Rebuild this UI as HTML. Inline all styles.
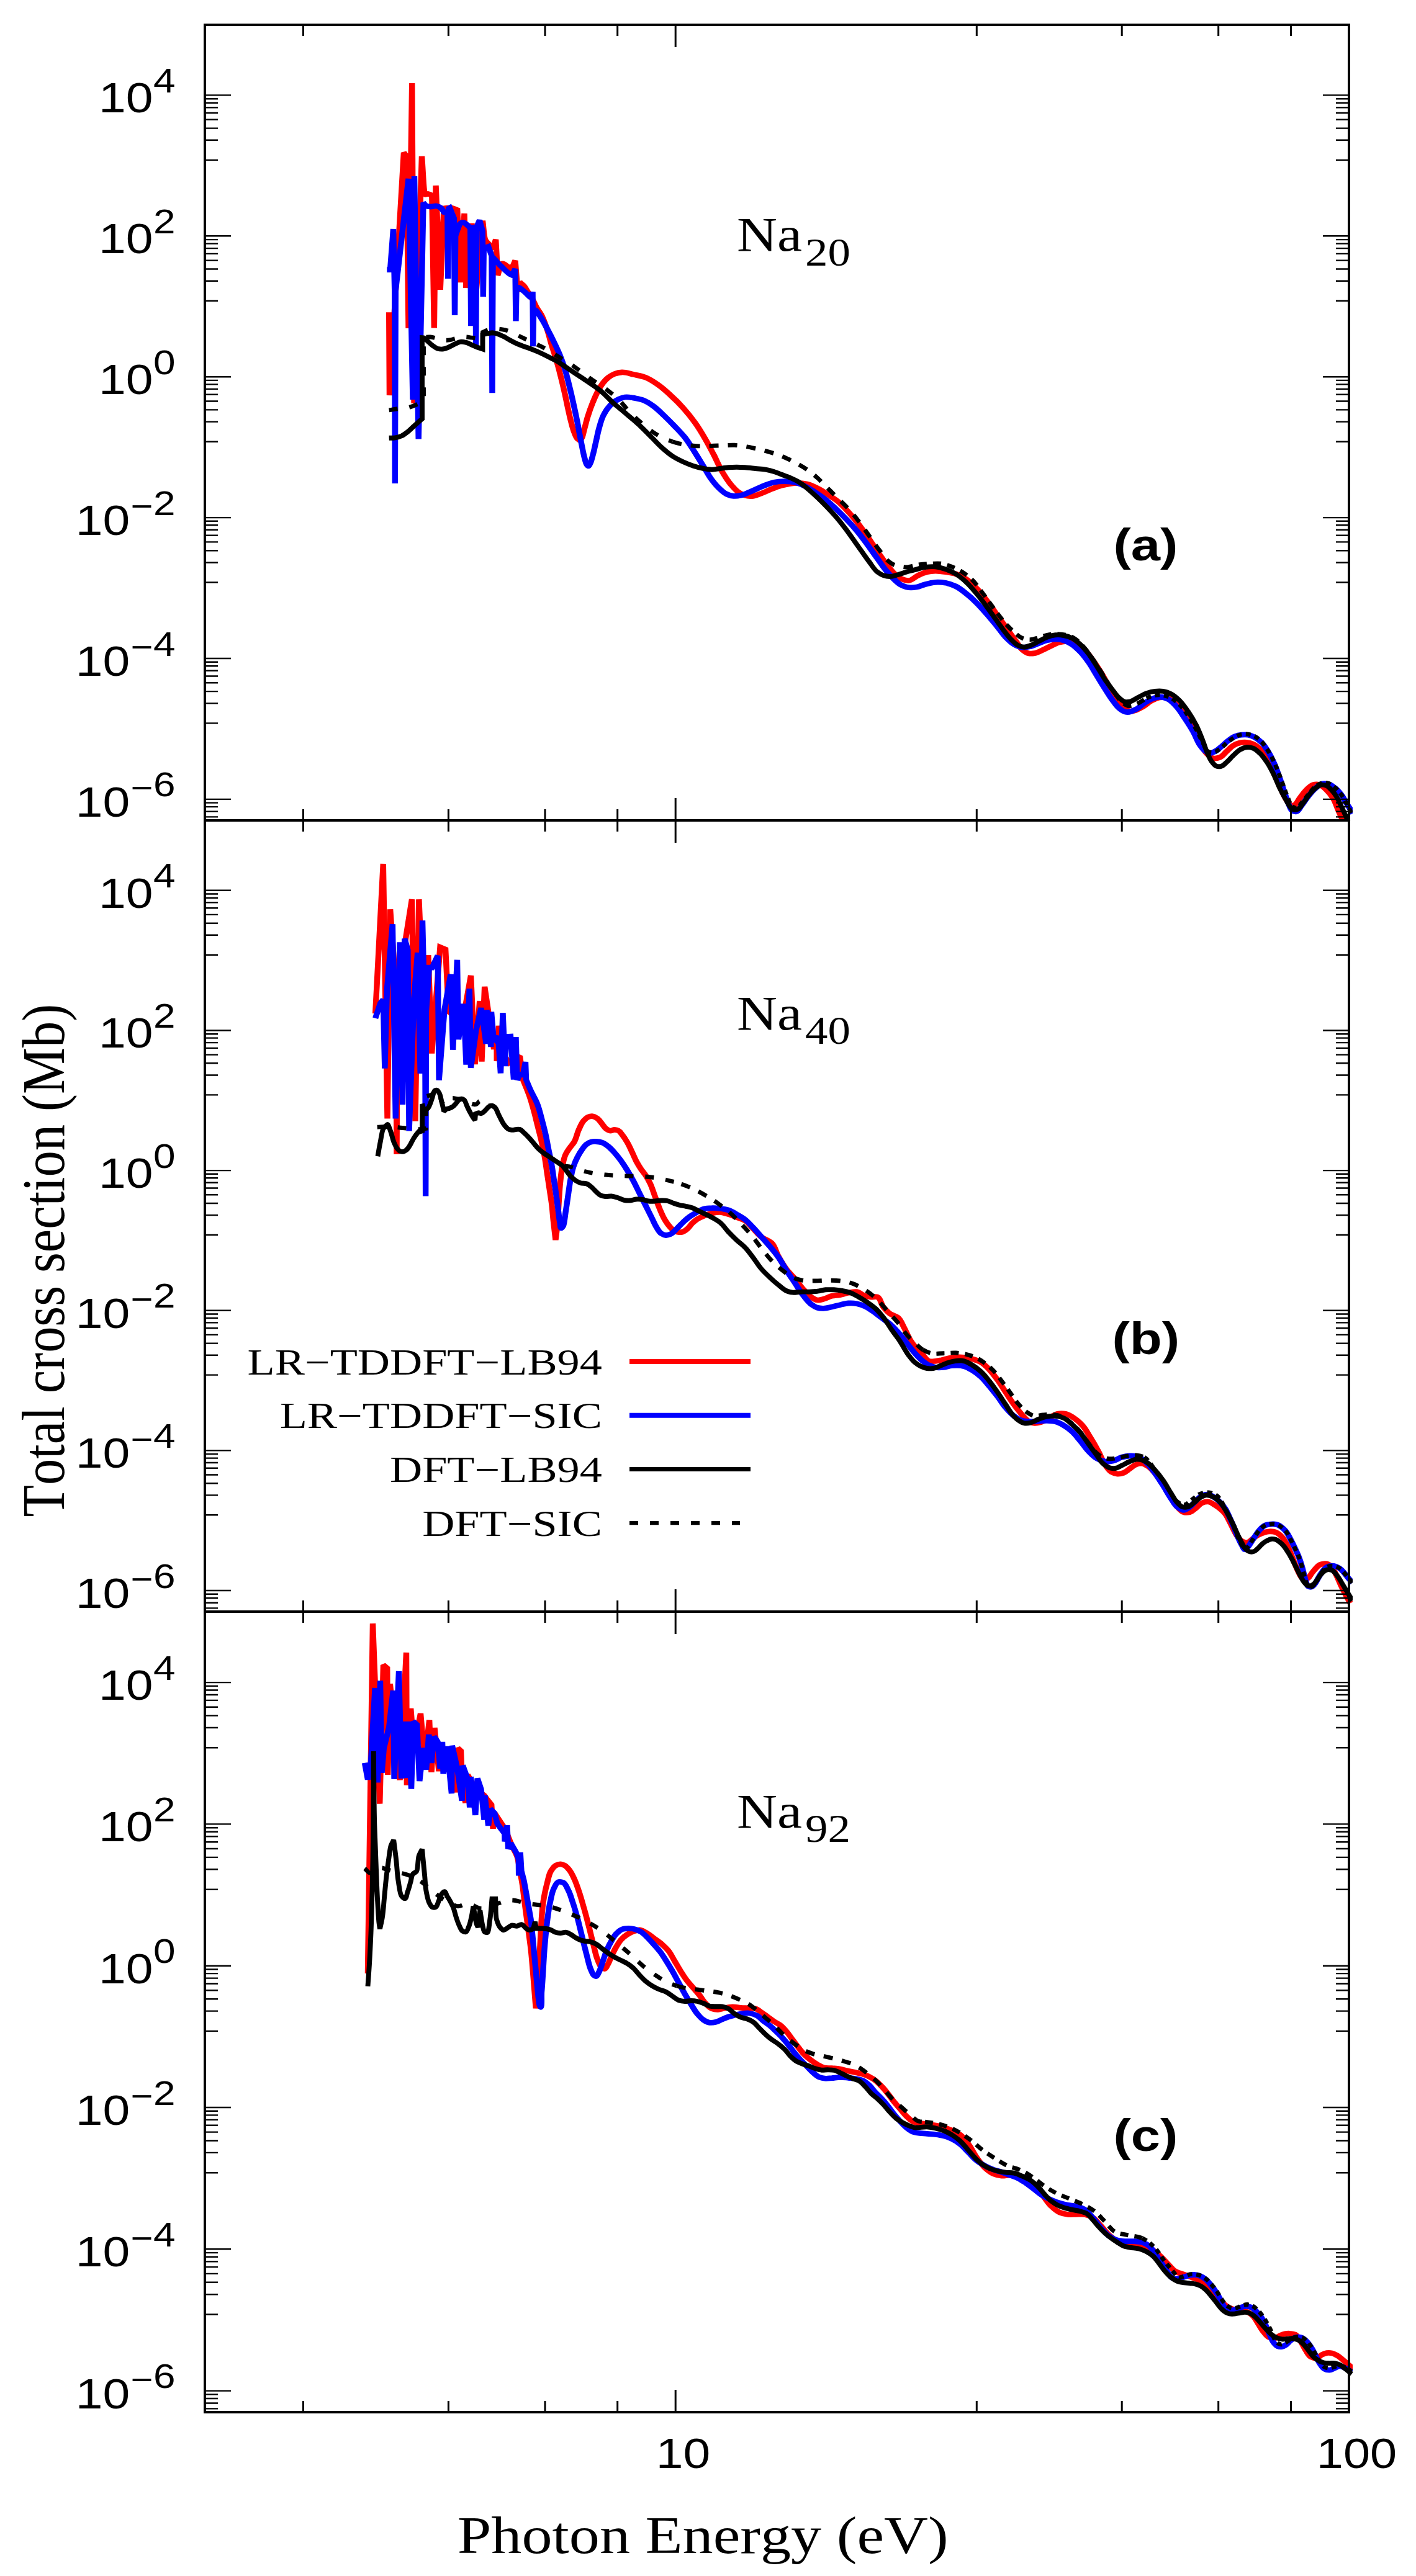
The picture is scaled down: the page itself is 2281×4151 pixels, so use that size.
<!DOCTYPE html>
<html lang="en"><head><meta charset="utf-8"><title>Total cross section vs photon energy</title>
<style>html,body{margin:0;padding:0;background:#fff}svg{display:block}text{font-kerning:none;font-variant-ligatures:none}</style></head><body>
<svg width="2281" height="4151" viewBox="0 0 2281 4151">
<rect width="2281" height="4151" fill="#fff"/>
<defs>
<clipPath id="cp0"><rect x="330" y="40" width="1849" height="1282"/></clipPath>
<clipPath id="cp1"><rect x="330" y="1322" width="1849" height="1275"/></clipPath>
<clipPath id="cp2"><rect x="330" y="2597" width="1849" height="1290"/></clipPath>
</defs>
<g clip-path="url(#cp0)" fill="none" stroke-linejoin="miter" stroke-miterlimit="1.8" stroke-linecap="butt">
<path stroke="#f00" stroke-width="8.8" transform="scale(1.07 1)" d="M585.7 503.3L586.4 637L607.9 246L612.1 252L615 529L620.3 134L623.4 650L635 252C636.8 272.4 637.7 313.5 640.2 313.3C641.8 313.2 643.3 312.3 644.9 312.5C646.8 312.7 648.5 314.2 650.3 315L653.6 528.5L656.1 299L662.8 466.7L668.2 336C672.1 335.7 676.1 334.3 679.9 335C683 335.5 685.6 337.3 688.5 338.5L693.2 455L699.1 344L701.7 464L710.3 360L715.9 480L726.6 356C728.2 366.7 728.2 383.3 731.3 388C733.3 391 736.3 393.8 738.3 396C739.6 397.4 740.9 398.7 742.2 400L746.4 386L749.3 443.3C751.8 437.2 752.1 424.5 757 425C760.1 425.3 762.2 428.3 764.8 430C766.5 431.2 768.3 432.3 770.1 433.5L775.7 420L779.4 470L782.7 455C784.5 456.7 786.5 458.2 788.2 460C790.8 462.9 792.4 466.6 794.4 470C797.1 474.4 799.8 478.8 802.2 483.3C804.5 487.7 806 492.4 808.4 496.7C810.3 500.1 812.8 503.2 814.6 506.7C817.6 512.2 820.1 519.9 822.4 526.7C825.6 535.9 827.5 545.6 830.2 555C832.7 563.9 835.6 572.7 838 581.7C840.2 590 842.3 598.3 844.2 606.7C846.5 616.1 848.5 625.5 850.5 635C852.1 642.8 853.5 650.6 855.1 658.3C856.6 665.6 858 672.8 859.8 680C861.2 685.6 862.4 691.3 864.5 696.7C865.8 700.1 867.3 705 869.2 706.7C870.3 707.7 871.5 709.4 873.1 709.2C874.8 709 875.3 706.5 876.2 705C877.6 702.6 878.3 697.2 879.3 693.3C880.9 687.1 882.7 678.8 884.7 671.7C887 663.8 889.6 656 892.5 648.3C894.9 642.1 897.3 635.9 900.3 630C902.7 625.4 905 620.7 908.1 616.7C910.4 613.7 912.9 610.7 915.9 608.3C918.7 606 921.8 603.9 925.2 602.5C928.7 601.1 932.4 600.2 936.1 600C941.9 599.6 947.6 602 953.3 603.3C959.6 604.8 966 605.8 972 608.3C978.7 611.2 984.8 615.6 990.7 620C997.4 625 1003.4 630.8 1009.3 636.7C1015.9 643 1022.2 649.7 1028 656.7C1034.7 664.6 1041 673 1046.7 681.7C1052.4 690.2 1057.4 699.3 1062.3 708.3C1066.7 716.5 1070.7 724.9 1074.8 733.3C1079 742.2 1082.5 751.4 1087.2 760C1091 766.9 1094.8 773.8 1099.7 780C1103.5 784.8 1107.5 790.1 1112.1 793.3C1115 795.4 1118.1 797.3 1121.5 798.3C1125.5 799.6 1129.8 799.8 1134 799.3C1138.3 798.8 1142.3 796.6 1146.4 795C1150.7 793.3 1154.7 791.2 1158.9 789.3C1163 787.5 1167.1 785.5 1171.3 784C1175.4 782.6 1179.6 781.6 1183.8 780.7C1188.9 779.6 1194.1 778.4 1199.4 778.3C1204.6 778.2 1209.9 778.7 1215 780C1220.4 781.4 1225.5 784 1230.5 786.7C1236 789.5 1241 793.2 1246.1 796.7C1251.4 800.4 1256.8 804 1261.7 808.3C1267.4 813.4 1272.3 819.2 1277.3 825C1282.8 831.4 1287.9 838.2 1292.8 845C1298.3 852.6 1303.3 860.5 1308.4 868.3C1313.7 876.6 1318.6 885.1 1324 893.3C1328 899.5 1332 905.8 1336.4 911.7C1340.4 916.8 1344.3 922.7 1348.9 926.7C1351.8 929.2 1354.8 931.8 1358.3 933.3C1361.2 934.6 1364.4 935.7 1367.6 935.7C1372.7 935.6 1377.8 929.2 1383.2 926.7C1387.2 924.8 1391.3 922.8 1395.6 921.7C1399.7 920.6 1403.9 920.1 1408.1 920C1413.3 919.9 1418.5 920.8 1423.7 921.7C1428.9 922.5 1434.3 923.2 1439.3 925C1444.8 927 1450 929.9 1454.8 933.3C1460.7 937.5 1465.6 943 1470.4 948.3C1476.1 954.6 1481 961.5 1486 968.3C1491.5 975.9 1496.4 983.9 1501.6 991.7C1506.7 999.4 1511.9 1007.2 1517.1 1015C1521.3 1021.1 1525.4 1027.3 1529.6 1033.3C1532.7 1037.8 1534.9 1043.1 1538.9 1046.7C1541.7 1049.1 1544.7 1051.7 1548.3 1052.7C1551.3 1053.5 1554.6 1053.2 1557.6 1052.7C1562.1 1051.9 1566 1049.3 1570.1 1047.3C1574.3 1045.3 1578.3 1042.8 1582.6 1040.7C1586.6 1038.6 1590.6 1036.2 1595 1035C1599.1 1033.9 1603.3 1033.1 1607.5 1033.3C1611.8 1033.6 1616.1 1034.8 1619.9 1036.7C1624.7 1039 1628.6 1042.9 1632.4 1046.7C1637.3 1051.6 1640.9 1057.6 1644.9 1063.3C1649.3 1069.8 1653.4 1076.5 1657.3 1083.3C1661.7 1091 1665.5 1099 1669.8 1106.7C1673.8 1114 1677.6 1121.8 1682.2 1128.3C1685.1 1132.4 1687.8 1136.8 1691.6 1140C1694.4 1142.4 1697.4 1145 1700.9 1146C1706.7 1147.5 1714.8 1142.1 1721 1138.6C1725.5 1136 1729 1131.7 1733.5 1129.2C1737.5 1126.9 1741.6 1124.4 1746.1 1123.8C1750.2 1123.2 1754.7 1123.6 1758.6 1125.1C1763.8 1127.1 1767.4 1131.9 1771.2 1135.9C1776.1 1141.1 1779.8 1147.3 1783.7 1153.3C1788.2 1160.3 1792.4 1167.5 1796.2 1174.8C1799.9 1181.8 1802.6 1189.3 1806.3 1196.3C1809.4 1202.2 1811.7 1208.8 1816.3 1213.7C1819.2 1216.9 1822.2 1220.8 1826.3 1221.8C1829.6 1222.5 1833.3 1221.7 1836.4 1220.4C1840.6 1218.7 1843.1 1214.2 1846.4 1211C1849.8 1207.9 1852.6 1204.1 1856.4 1201.6C1859.5 1199.6 1862.9 1198 1866.5 1197.1C1869.7 1196.3 1873.2 1196 1876.5 1196.3C1880 1196.6 1883.4 1197.5 1886.5 1199C1890.4 1200.8 1893.6 1203.9 1896.6 1207C1900.7 1211.3 1903.6 1216.6 1906.6 1221.8C1910.6 1228.6 1913.4 1236 1916.6 1243.2C1920.2 1251.2 1923.2 1259.4 1926.7 1267.4C1929.9 1274.6 1933.1 1283.5 1936.7 1288.9C1939 1292.2 1941.5 1298.1 1944.2 1298.3C1946 1298.4 1947.7 1297.7 1949.3 1296.9C1951.7 1295.7 1954.2 1289.7 1956.8 1286.2C1960 1281.6 1962.9 1276.7 1966.8 1272.8C1969.8 1269.7 1972.7 1266 1976.8 1264.7C1980 1263.7 1983.7 1263.7 1986.9 1264.7C1991 1266 1993.9 1269.7 1996.9 1272.8C2000.9 1276.7 2004.1 1281.3 2006.9 1286.2C2010.3 1292 2011.9 1298.7 2014.5 1305C2017.8 1313 2021.2 1321.1 2024.5 1329.1"/>
<path stroke="#00f" stroke-width="8.8" transform="scale(1.07 1)" d="M582.5 434.7L587.4 434.7L592.1 369L594.2 470L594.7 779L595.6 468L615 288L621.5 644L623.8 284L630.1 707.5L637.4 326.7C638.8 328.4 639.9 330.6 641.8 331.7C643.6 332.7 645.8 332.8 647.9 333C651.1 333.3 654.2 331.3 657.3 332C659.6 332.5 661.8 333.5 663.6 335C665.7 336.7 666.7 339.5 668.2 341.7L673.6 343L674.5 449L675.4 336L677.1 335L683.6 352L684.6 508L685.7 380C687.1 375.6 688.5 370.3 690 366.7C691 364.4 691.4 361.4 693.2 360C694.3 359.1 695.6 358.4 697 358.3C699.2 358.2 700.8 360.3 702.5 361.7C704.3 363.1 705.6 365 707.2 366.7L708.1 368L709.1 525.3L710 367L715.6 367L716.5 556.7L717.5 366L722 355L726.4 372L727.4 478.3L728.3 400L735.2 397.5L740.2 412L741.1 633.3L742.1 415C745.5 418.9 748.8 422.9 752.3 426.7C754.9 429.5 757.4 432.3 760.1 435C762.1 437 764 439.2 766.4 440.8C767.8 441.8 769.5 442.5 771 443.3L775.7 433.3L776.6 517.5L777.6 462L782.7 464.2C785.6 466.7 788.6 469 791.3 471.7C793.5 473.8 795.4 476.1 797.5 478.3L801.2 479.2L801.9 470L802.5 558.3L803.4 498.3C804.6 499 805.8 499.6 806.9 500.3C808.6 501.6 813.3 510 816.2 515C819.6 520.9 822.5 527.2 825.5 533.3C828.8 539.9 831.9 546.6 834.9 553.3C837.6 559.4 840.3 565.5 842.7 571.7C845.6 579.3 848.2 587.1 850.5 595C852.9 603.2 854.7 611.6 856.7 620C858.9 629.4 861 638.9 862.9 648.3C865.1 658.9 867.2 669.4 869.2 680C871.3 691.6 873.2 703.4 875.4 715C876.9 722.8 878.6 732.9 880.1 738.3C881 741.7 882.1 746.9 883.2 748.3C883.9 749.2 884.4 750.6 885.5 750.8C887.2 751.2 887.7 748.1 888.6 746.7C890.1 744.3 891.3 737.8 892.5 733.3C894.4 726.2 895.6 718.9 897.2 711.7C898.8 704.4 900 697.1 901.9 690C903.7 683.2 905.2 676.3 908.1 670C910.3 665.3 912.7 660.7 915.9 656.7C918.2 653.7 920.7 650.7 923.7 648.3C926.1 646.4 928.7 644.7 931.5 643.3C934.4 641.9 937.5 640.6 940.8 640C946 639.1 951.3 640.7 956.4 641.7C960.6 642.5 964.9 643.4 968.8 645C974.6 647.3 979.6 651.2 984.4 655C990.1 659.4 994.9 664.9 1000 670C1005.3 675.4 1010.5 681 1015.6 686.7C1020.9 692.6 1026.4 698.6 1031.2 705C1037 712.9 1041.7 721.6 1046.7 730C1051 737.2 1055 744.4 1059.2 751.7C1063.3 758.9 1066.8 766.5 1071.7 773.3C1075.4 778.6 1079.4 783.9 1084.1 788.3C1087 791.1 1089.9 794.1 1093.5 796C1096.8 797.8 1100.6 799 1104.4 799.3C1108 799.7 1111.7 799.1 1115.3 798.3C1119.6 797.3 1123.6 795.1 1127.7 793.3C1131.9 791.5 1136 789.3 1140.2 787.3C1144.3 785.4 1148.4 783.4 1152.6 781.7C1156.7 780 1160.8 778.3 1165.1 777.3C1170.2 776.1 1175.5 775.7 1180.7 775.7C1185.9 775.7 1191.2 776.1 1196.3 777.3C1201.7 778.6 1206.9 780.8 1211.8 783.3C1217.4 786.1 1222.3 789.8 1227.4 793.3C1232.7 797 1238 800.8 1243 805C1248.5 809.7 1253.5 814.9 1258.6 820C1263.9 825.4 1269.1 831 1274.1 836.7C1279.5 842.6 1284.8 848.7 1289.7 855C1295.2 862 1300.2 869.4 1305.3 876.7C1310.6 884.4 1315.6 892.2 1320.9 900C1325 906.1 1328.9 912.4 1333.3 918.3C1337.3 923.5 1341.2 928.7 1345.8 933.3C1348.7 936.3 1351.6 939.4 1355.1 941.7C1358 943.5 1361.2 945.1 1364.5 946C1369.5 947.3 1375 946.9 1380.1 946C1384.4 945.2 1388.3 942.9 1392.5 941.7C1397.6 940.2 1402.8 938.7 1408.1 938.3C1413.3 938 1418.6 938.3 1423.7 939.3C1429.1 940.4 1434.4 942.4 1439.3 945C1445 948 1449.9 952.5 1454.8 956.7C1460.3 961.3 1465.5 966.4 1470.4 971.7C1475.9 977.5 1480.9 983.8 1486 990C1491.3 996.6 1496.4 1003.3 1501.6 1010C1505.8 1015.5 1509.3 1021.5 1514 1026.7C1517.9 1030.9 1521.6 1035.4 1526.5 1038.3C1530.3 1040.7 1534.5 1042.8 1538.9 1043.3C1543.1 1043.8 1547.3 1042.7 1551.4 1041.7C1555.7 1040.5 1559.7 1038.3 1563.9 1036.7C1568 1035 1572 1032.8 1576.3 1031.7C1580.4 1030.6 1584.6 1030 1588.8 1030C1593 1030 1597.2 1030.4 1601.2 1031.7C1605.7 1033.1 1609.8 1035.6 1613.7 1038.3C1618.4 1041.6 1622.3 1045.8 1626.2 1050C1630.8 1055.1 1634.8 1060.9 1638.6 1066.7C1643.2 1073.6 1646.9 1081.1 1651.1 1088.3C1655.2 1095.6 1659.3 1102.9 1663.6 1110C1667.6 1116.7 1671.4 1123.7 1676 1130C1678.9 1134 1681.5 1138.5 1685.4 1141.7C1688.2 1144 1691.2 1146.5 1694.7 1147.3C1700.2 1148.6 1706 1145.3 1711 1142.6C1714.7 1140.5 1717.5 1137.1 1721 1134.5C1725 1131.6 1729 1128.5 1733.5 1126.5C1737.5 1124.8 1741.7 1123 1746.1 1123C1750.4 1123 1754.8 1124.5 1758.6 1126.5C1763.8 1129.2 1767.4 1134.2 1771.2 1138.6C1776.1 1144.3 1779.7 1151 1783.7 1157.4C1788.1 1164.4 1792.4 1171.5 1796.2 1178.8C1799.9 1185.8 1802.7 1195 1806.3 1200.3C1808.5 1203.6 1810.6 1207.2 1813.8 1209.7C1816.1 1211.4 1818.5 1213.5 1821.3 1213.7C1824 1213.9 1826.5 1212.2 1828.9 1211C1832.7 1209.1 1835.6 1205.8 1838.9 1203C1842.4 1200 1845.3 1196.4 1848.9 1193.6C1852.1 1191.1 1855.3 1188.5 1859 1186.9C1862.1 1185.5 1865.6 1184.6 1869 1184.2C1872.3 1183.8 1875.7 1183.6 1879 1184.2C1882.6 1184.9 1885.9 1186.4 1889.1 1188.2C1892.8 1190.3 1896.1 1193.2 1899.1 1196.3C1903.2 1200.5 1906.1 1205.9 1909.1 1211C1913.1 1217.9 1916.2 1225.2 1919.2 1232.5C1922 1239.5 1924.3 1246.8 1926.7 1254C1929.3 1262 1931.6 1270.1 1934.2 1278.1C1936.2 1284.4 1938.1 1291.8 1940.5 1296.9C1942 1300.1 1942.5 1304.6 1945.5 1306.3C1947.3 1307.4 1949.6 1308 1951.8 1307.6C1955.1 1307.1 1956.9 1301.5 1959.3 1298.3C1962.9 1293.5 1965.7 1288.2 1969.3 1283.5C1972.5 1279.3 1975.6 1275 1979.4 1271.4C1982.4 1268.4 1985.3 1264.6 1989.4 1263.4C1992.6 1262.4 1996.2 1262.5 1999.4 1263.4C2003.2 1264.3 2006.4 1267.1 2009.5 1269.5C2013.4 1272.7 2016.6 1276.7 2019.5 1280.8C2022.5 1285 2024.4 1289.8 2027 1294.2C2030.2 1299.7 2033.7 1305 2037 1310.3"/>
<path stroke="#000" stroke-width="7.9" d="M626.7 705.8C630 705.7 633.4 705.9 636.7 705.3C640.1 704.8 643.5 703.9 646.7 702.5C650.3 700.9 653.5 698.3 656.7 695.8C660.2 693.1 663.3 689.7 666.7 686.7C669.4 684.2 672.4 681.4 675 679.2C676.6 677.8 678.3 676.4 680 675L680 544.2C681.1 544.3 682.3 544.3 683.3 544.7C685 545.3 686.7 547.7 688.3 549.2C691 551.6 693.6 554.5 696.7 556.7C699.3 558.6 701.9 560.7 705 561.7C707.7 562.5 710.6 562.8 713.3 562.5C716.2 562.2 719 561 721.7 560C725.7 558.5 729.4 555.9 733.3 554.2C736.1 553 738.7 551.2 741.7 550.8C744.4 550.5 747.3 551 750 551.7C753.5 552.5 756.7 554.4 760 555.8C763.3 557.2 766.6 558.8 770 560C772.5 560.9 775 561.7 777.5 562.5L777.5 539.2C780 538.6 782.5 538 785 537.5C787.8 537 790.5 536.3 793.3 536.3C797.8 536.4 804.7 539.2 810 541.7C814.1 543.5 817.7 546.2 821.7 548.3C825.5 550.4 829.4 552.4 833.3 554.2C837.7 556.1 842.2 557.5 846.7 559.2C851.1 560.8 855.6 562.4 860 564.2C864.5 566 868.9 567.9 873.3 570C877.8 572.1 882.2 574.4 886.7 576.7C890 578.3 893.4 579.8 896.7 581.7C900.1 583.7 903.3 586.1 906.7 588.3C910 590.6 913.3 592.8 916.7 595C920 597.2 923.3 599.4 926.7 601.7C930 603.9 933.3 606.1 936.7 608.3C940 610.6 943.3 612.8 946.7 615C950 617.2 953.4 619.4 956.7 621.7C960.1 624.1 963.5 626.5 966.7 629.2C970.2 632 973.4 635.2 976.7 638.3C980.1 641.6 983.2 645.2 986.7 648.3C989.9 651.3 993.3 653.9 996.7 656.7C1000 659.4 1003.4 662.2 1006.7 665C1012 669.5 1024.8 680.2 1033.3 688.3C1039 693.7 1044.4 699.4 1050 705C1055.6 710.6 1060.8 716.4 1066.7 721.7C1072 726.4 1077.4 731.1 1083.3 735C1088.6 738.5 1094.3 741.3 1100 744C1105.4 746.5 1111 748.8 1116.7 750.7C1122.1 752.5 1127.7 754 1133.3 755C1137.7 755.8 1142.2 756.7 1146.7 756.7C1151.1 756.7 1155.6 755.6 1160 755C1164.4 754.4 1168.9 753.7 1173.3 753.3C1177.8 752.9 1182.2 752.7 1186.7 752.7C1191.1 752.7 1195.6 753 1200 753.3C1205.6 753.7 1211.1 754.4 1216.7 755C1222.2 755.6 1227.8 755.7 1233.3 756.7C1237.8 757.5 1242.3 758.6 1246.7 760C1251.2 761.4 1255.6 763.3 1260 765C1264.4 766.7 1269 768.1 1273.3 770C1277.9 772 1282.4 774.1 1286.7 776.7C1291.4 779.6 1295.7 783.2 1300 786.7C1305.8 791.4 1311.2 796.5 1316.7 801.7C1322.4 807.1 1327.9 812.7 1333.3 818.3C1339 824.3 1344.7 830.3 1350 836.7C1355.9 843.6 1361.2 851 1366.7 858.3C1372.4 866 1377.8 873.9 1383.3 881.7C1388.9 889.4 1394.2 897.4 1400 905C1404.3 910.7 1408.4 918 1413.3 921.7C1416.4 924 1419.7 926.1 1423.3 927.3C1426.5 928.4 1430 929 1433.3 929C1437.9 929 1442.3 927.2 1446.7 926C1451.2 924.8 1455.5 923 1460 921.7C1464.4 920.4 1468.9 919.5 1473.3 918.3C1478.9 916.9 1484.3 914.8 1490 914C1495.5 913.2 1501.1 912.8 1506.7 913.3C1512.4 913.9 1517.9 915.5 1523.3 917.3C1529.1 919.3 1534.8 921.8 1540 925C1546.1 928.7 1551.5 933.5 1556.7 938.3C1562.7 944 1568 950.3 1573.3 956.7C1579.2 963.6 1584.6 971 1590 978.3C1595.7 986 1601.1 993.9 1606.7 1001.7C1611.1 1007.8 1615.3 1014.1 1620 1020C1623.2 1024 1626.3 1028.1 1630 1031.7C1633.1 1034.7 1636.1 1038.1 1640 1040C1643.1 1041.5 1646.6 1042.7 1650 1042.7C1653.4 1042.7 1656.8 1041.2 1660 1040C1664.7 1038.3 1668.9 1035.6 1673.3 1033.3C1677.8 1031.1 1682 1028.4 1686.7 1026.7C1691 1025.1 1695.4 1023.8 1700 1023.3C1704.4 1022.9 1709 1023.2 1713.3 1024C1717.9 1024.8 1722.5 1026.2 1726.7 1028.3C1731.6 1030.8 1735.9 1034.6 1740 1038.3C1745 1042.8 1749.2 1048.1 1753.3 1053.3C1758.3 1059.6 1762.3 1066.6 1766.7 1073.3C1771.2 1080.5 1775.3 1088 1780 1095C1784.2 1101.3 1788.6 1107.4 1793.3 1113.3C1796.5 1117.3 1799.4 1121.7 1803.3 1125C1805.9 1127.2 1808.4 1129.8 1811.7 1130.7C1814.3 1131.4 1817.3 1131.1 1820 1130.7C1824.4 1129.9 1828.9 1126.1 1833.4 1123.8C1837.9 1121.5 1842.1 1118.8 1846.8 1117.1C1851.2 1115.5 1855.7 1114.4 1860.3 1113.9C1864.7 1113.4 1869.3 1113.2 1873.7 1113.9C1878.3 1114.6 1882.9 1116.2 1887.1 1118.4C1892.2 1121.1 1896.4 1125.1 1900.5 1129.2C1905.7 1134.3 1909.8 1140.6 1913.9 1146.6C1918.9 1153.9 1923.4 1161.6 1927.4 1169.4C1931.5 1177.7 1934.7 1186.4 1938.1 1194.9C1940.9 1202 1942.9 1209.8 1946.1 1216.4C1948.1 1220.5 1949.9 1225 1952.9 1228.5C1954.8 1230.8 1956.7 1233.6 1959.6 1234.6C1962.1 1235.6 1965 1235.4 1967.6 1234.6C1970.9 1233.7 1973.1 1230.7 1975.7 1228.5C1979.5 1225.2 1982.7 1221.2 1986.4 1217.7C1989.9 1214.5 1993 1210.7 1997.1 1208.3C2000.5 1206.5 2004.1 1204.7 2007.9 1204.3C2011.5 1203.9 2015.2 1204.4 2018.6 1205.7C2022.8 1207.2 2026.1 1210.7 2029.3 1213.7C2033.5 1217.6 2036.8 1222.4 2040.1 1227.1C2044.2 1233.1 2047.5 1239.5 2050.8 1245.9C2054.8 1253.8 2057.7 1262.2 2061.5 1270.1C2064.9 1276.9 2068.8 1284.4 2072.3 1290.2C2074.4 1293.8 2076.4 1298.4 2079 1300.9C2080.6 1302.5 2082.2 1304.5 2084.4 1305C2086.6 1305.5 2089 1304.6 2091.1 1303.6C2094.4 1302.1 2096.5 1297.4 2099.1 1294.2C2102.9 1289.5 2105.9 1284.1 2109.9 1279.5C2113.2 1275.6 2116.6 1271.4 2120.6 1268.7C2123.1 1267.1 2125.7 1265.1 2128.6 1264.7C2131.3 1264.3 2134.2 1265 2136.7 1266C2139.9 1267.4 2142.3 1270.3 2144.7 1272.8C2147.9 1276 2150.4 1279.7 2152.8 1283.5C2156 1288.6 2158.3 1294.2 2160.8 1299.6C2163.2 1304.5 2165.3 1309.4 2167.6 1314.4C2169.8 1319.3 2172 1324.2 2174.3 1329.1"/>
<path stroke="#000" stroke-width="6.9" stroke-dasharray="14 19" d="M626.7 660.8C631.4 660.1 636.1 659.3 640.8 658.7C646.7 657.9 652.6 658.1 658.3 656.7C662.9 655.5 667.4 653.7 671.7 651.7C675.4 650 678.9 647.8 682.5 645.8L682.5 543.3C686.1 543.2 689.7 542.7 693.3 543C698.5 543.4 703.3 545.7 708.3 546.7C712.2 547.4 716.1 548.4 720 548.3C724.5 548.3 728.9 546.7 733.3 545.8C737.8 544.9 742.1 543.3 746.7 543C751.1 542.7 755.6 543.6 760 544.2C765.3 544.9 770.6 546.1 775.8 547L777.7 547L777.7 535.3C780.1 534.2 782.5 532.9 785 532C787.7 531.1 790.5 530.4 793.3 530C797.9 529.4 806.8 530.2 813.3 531.7C823.4 533.9 832.3 539.9 841.7 544.2C851.7 548.8 861.9 553.2 871.7 558.3C881.4 563.5 890.7 569.3 900 575C908.4 580.1 916.8 585.3 925 590.8C933.5 596.7 941.6 603.2 950 609.2C958.5 615.2 967.6 620.4 975.8 626.7C983.7 632.6 991.3 638.9 998.3 645.8C1004.9 652.3 1010.1 660.1 1016.7 666.7C1022 671.9 1027.6 676.8 1033.3 681.7C1038.8 686.3 1044.1 691 1050 695C1055.3 698.7 1060.9 702.1 1066.7 705C1072 707.6 1077.6 709.8 1083.3 711.7"/>
<path stroke="#000" stroke-width="6.9" stroke-dasharray="15 15" d="M1083.3 711.7C1088.8 713.5 1094.4 714.9 1100 716C1105.5 717.1 1111.1 717.8 1116.7 718.3C1122.2 718.8 1127.8 719 1133.3 719C1138.9 719 1144.4 718.6 1150 718.3C1155.6 718.1 1161.1 717.8 1166.7 717.7C1172.2 717.5 1177.8 717.1 1183.3 717.3C1188.9 717.6 1194.5 718.5 1200 719.3C1205.6 720.2 1211.1 721.5 1216.7 722.7C1222.2 723.9 1227.8 725.2 1233.3 726.7C1238.9 728.2 1244.5 729.8 1250 731.7C1255.7 733.6 1261.2 735.9 1266.7 738.3C1272.3 740.9 1277.9 743.7 1283.3 746.7C1289 749.8 1294.7 753 1300 756.7C1305.9 760.7 1311.4 765.3 1316.7 770C1322.5 775.2 1327.8 781.1 1333.3 786.7C1338.9 792.2 1344.4 797.8 1350 803.3C1355.6 808.9 1361.4 814.2 1366.7 820C1372.5 826.4 1378 833.1 1383.3 840C1389.2 847.6 1394.4 855.6 1400 863.3C1405.6 871.1 1410.9 879.1 1416.7 886.7C1421 892.3 1425.1 899.2 1430 903.3C1433.1 905.9 1436.3 908.4 1440 910C1443.2 911.4 1446.6 912 1450 912.7C1453.3 913.3 1456.6 913.9 1460 914C1465.4 914.1 1473.3 910.9 1480 910"/>
<path stroke="#000" stroke-width="6.9" stroke-dasharray="13 10" d="M1480 910C1486.6 909.1 1493.3 908.6 1500 908.3C1505.6 908.1 1511.2 907.5 1516.7 908.3C1522.4 909.2 1527.9 911.2 1533.3 913.3C1539.1 915.6 1544.7 918.4 1550 921.7C1556 925.5 1561.6 930 1566.7 935C1571.7 940 1575.7 946 1580 951.7C1584.6 957.7 1588.9 963.9 1593.3 970C1597.8 976.1 1602.1 982.3 1606.7 988.3C1611 994 1615.2 999.7 1620 1005C1624.2 1009.7 1628.6 1014.2 1633.3 1018.3C1637.5 1022 1641.5 1026.3 1646.7 1028.3C1650.9 1030 1655.5 1030.8 1660 1030.7C1664.6 1030.5 1668.9 1028.5 1673.3 1027.3C1677.8 1026.1 1682.1 1024.3 1686.7 1023.3C1692.1 1022.2 1697.8 1021.5 1703.3 1021.7C1707.8 1021.8 1712.3 1022.3 1716.7 1023.3C1721.3 1024.5 1725.9 1026 1730 1028.3C1735.1 1031.3 1739.2 1035.8 1743.3 1040C1748.3 1045.1 1752.5 1050.9 1756.7 1056.7C1761.4 1063.1 1765.7 1069.9 1770 1076.7C1774.6 1083.8 1778.8 1091.2 1783.3 1098.3C1787.7 1105.1 1791.9 1111.9 1796.7 1118.3C1799.8 1122.6 1802.7 1127.2 1806.7 1130.7C1809.7 1133.3 1812.8 1136.3 1816.7 1137.3C1822.2 1138.8 1828.1 1135.4 1833.4 1133.2C1838.2 1131.2 1842.1 1127.4 1846.8 1125.1"/>
<path stroke="#000" stroke-width="6.9" stroke-dasharray="8 6.5" d="M1846.8 1125.1C1851.1 1123.1 1855.6 1121.1 1860.3 1120.3C1864.7 1119.6 1869.3 1119.6 1873.7 1120.3C1878.4 1121.1 1882.9 1122.9 1887.1 1125.1C1892.1 1127.9 1896.4 1131.9 1900.5 1135.9C1905.7 1141 1909.8 1147.3 1913.9 1153.3C1918.9 1160.6 1923.2 1168.4 1927.4 1176.1C1931.2 1183.2 1934.2 1190.6 1938.1 1197.6C1940.6 1202.2 1942.2 1209.1 1946.1 1211C1948.6 1212.2 1951.5 1212.6 1954.2 1212.4C1958.2 1212 1961.6 1209.2 1964.9 1207C1968.9 1204.4 1972 1200.6 1975.7 1197.6C1979.1 1194.8 1982.6 1191.9 1986.4 1189.6C1989.8 1187.5 1993.3 1185.3 1997.1 1184.2C2000.6 1183.2 2004.3 1182.6 2007.9 1182.9C2011.6 1183.1 2015.2 1184.1 2018.6 1185.5C2022.5 1187.1 2026.1 1189.5 2029.3 1192.2C2033.7 1195.9 2036.8 1201 2040.1 1205.7C2044.2 1211.6 2047.6 1218 2050.8 1224.4C2053.8 1230.6 2056.3 1236.9 2058.9 1243.2C2061.7 1250.3 2064.2 1257.6 2066.9 1264.7C2069.6 1271.9 2071.8 1279.2 2075 1286.2C2077 1290.7 2078.5 1297.4 2081.7 1299.6C2083.6 1301 2086 1302.4 2088.4 1302.3C2092.2 1302.1 2093.9 1297 2096.4 1294.2C2100.3 1290 2103.5 1285.2 2107.2 1280.8C2110.6 1276.7 2113.7 1272.1 2117.9 1268.7C2121.2 1266.1 2124.6 1263.1 2128.6 1262C2132.1 1261.1 2135.9 1261.1 2139.4 1262C2143.5 1263.1 2146.8 1266.1 2150.1 1268.7C2154.3 1272.1 2157.7 1276.5 2160.8 1280.8C2163.9 1285 2166.4 1289.7 2168.9 1294.2C2172.8 1301.2 2176.1 1308.5 2179.6 1315.7"/>
</g>
<g clip-path="url(#cp1)" fill="none" stroke-linejoin="miter" stroke-miterlimit="1.8" stroke-linecap="butt">
<path stroke="#f00" stroke-width="8.8" transform="scale(1.07 1)" d="M565.1 1633.3L576.9 1392L583.2 1802.5L587.5 1465.3L596.1 1596.7L597.2 1860L598.3 1596.7L620.1 1449.2L625.2 1806.7L630.7 1449.2L638 1630L644.7 1539.2L650 1697.5L662.6 1526.3L670.7 1530L675.4 1630L697.2 1646.7L696.3 1647.5L708.9 1572.1L715 1715L722.2 1613.1L725.2 1710.6L729.6 1590L743.6 1690.6L747.7 1663.8L747.9 1710L750.9 1653.1L757 1697.5L766.4 1712.5L782.7 1701.9L787.4 1740C790.5 1748.3 794 1756.5 796.7 1765C799.4 1773.2 801.6 1781.6 803.7 1790C805.9 1798.3 807.6 1806.7 809.6 1815C811.5 1823.3 813.7 1831.6 815.4 1840C817.2 1848.3 818.7 1856.6 820.1 1865C821.5 1873.3 822.4 1881.7 823.6 1890C824.8 1898.3 825.9 1906.7 827.1 1915C828.3 1923.3 829.6 1931.6 830.6 1940C831.6 1948.3 832.1 1956.7 832.9 1965C833.7 1972.5 834.7 1981.9 835.3 1987.5C835.7 1991 836.1 1994.5 836.4 1998C837.2 1991.2 838.1 1984.3 838.8 1977.5C839.8 1966.5 840.3 1952.5 841.1 1940C841.9 1928.3 842.3 1916.6 843.5 1905C844.4 1895.8 845.1 1886.5 847 1877.5C848.2 1871.6 849.1 1865.5 851.6 1860C853.2 1856.5 855.4 1853.3 857.5 1850C859.7 1846.6 862.5 1843.6 864.5 1840C867.7 1834.3 868.6 1826.5 871.5 1820C873.6 1815.3 875.3 1810.1 878.5 1806.2C880.5 1803.9 882.6 1801.3 885.5 1800C887.7 1799 890.2 1798.4 892.5 1798.8C895.1 1799.1 897.4 1800.9 899.5 1802.5C902.5 1804.8 904.2 1808.3 906.5 1811.2C908.5 1813.7 909.9 1816.8 912.4 1818.8C914.1 1820.1 916 1821.6 918.2 1822C920.6 1822.4 922.8 1820.4 925.2 1820.5C927.2 1820.6 929.3 1821 931.1 1822C933.7 1823.4 935.1 1826.4 936.9 1828.8C939.6 1832.3 941.8 1836.1 943.9 1840C946.6 1844.8 948.7 1850 950.9 1855C953.4 1860.4 955.3 1866 957.9 1871.2C960.1 1875.5 962.4 1879.7 965 1883.8C967.1 1887.2 969.8 1890.3 972 1893.8C974.6 1898.1 976.9 1902.8 979 1907.5C981.8 1914 983.6 1920.8 986 1927.5C988.3 1934.2 990.4 1940.9 993 1947.5C995.2 1953 997.2 1958.6 1000 1963.8C1002.1 1967.6 1004.3 1971.5 1007 1975C1009.1 1977.7 1011.2 1980.6 1014 1982.5C1016.1 1983.9 1018.5 1985.1 1021 1985.5C1023.3 1985.9 1025.8 1985.7 1028 1985C1030.8 1984.1 1032.9 1981.9 1035 1980C1037.8 1977.5 1039.5 1973.9 1042.1 1971.2C1044.2 1969 1046.6 1966.9 1049.1 1965C1053.1 1962 1065.1 1956.5 1071.7 1955C1075.7 1954.1 1079.9 1953.1 1084.1 1953.3C1088.4 1953.6 1092.5 1955.3 1096.6 1956.7C1100.8 1958.1 1104.9 1960 1109 1961.7C1113.2 1963.3 1117.7 1964.3 1121.5 1966.7C1126.6 1969.9 1129.8 1975.6 1134 1980C1138.1 1984.4 1141.7 1989.4 1146.4 1993.3C1151.2 1997.3 1157.8 1998.8 1162 2003.3C1167 2008.7 1168 2016.8 1171.3 2023.3C1175.2 2030.7 1179 2038.2 1183.8 2045C1187.6 2050.3 1192.2 2054.9 1196.3 2060C1200.6 2065.4 1204.3 2071.4 1208.7 2076.7C1212.6 2081.3 1216.6 2086.8 1221.2 2090C1224.1 2092 1227 2094.5 1230.5 2095C1233.7 2095.4 1236.8 2094.2 1239.9 2093.3C1244.2 2092.2 1248 2089.5 1252.3 2088.3C1256.4 2087.3 1260.7 2087.5 1264.8 2086.7C1269 2085.8 1273 2084.2 1277.3 2083.3C1281.4 2082.5 1285.6 2081 1289.7 2081.7C1294.4 2082.4 1297.7 2086.9 1302.2 2088.3C1305.2 2089.3 1308.4 2089.7 1311.5 2090C1314.6 2090.3 1317.9 2089 1320.9 2090C1325.6 2091.6 1326.4 2101.6 1330.2 2106.7C1333 2110.3 1336 2113.9 1339.6 2116.7C1343.3 2119.5 1348.5 2120.2 1352 2123.3C1356.8 2127.6 1358.4 2134.3 1361.4 2140C1364.7 2146.5 1366.9 2153.7 1370.7 2160C1373.5 2164.7 1376.6 2169.1 1380.1 2173.3C1383 2176.9 1386.3 2180 1389.4 2183.3C1392.5 2186.7 1394.4 2191.9 1398.8 2193.3C1401.7 2194.3 1405 2193.6 1408.1 2193.3C1411.3 2193.1 1414.4 2192.3 1417.4 2191.7C1421.6 2190.8 1425.7 2189.1 1429.9 2188.3C1436.7 2187.1 1445 2186.5 1451.7 2187.3C1455.9 2187.8 1460.1 2188.8 1464.2 2190C1468.5 2191.3 1472.8 2192.7 1476.6 2195C1481.5 2197.9 1485.3 2202.5 1489.1 2206.7C1493.8 2211.8 1497.6 2217.6 1501.6 2223.3C1506 2229.8 1509.9 2236.7 1514 2243.3C1518.2 2250 1522 2256.9 1526.5 2263.3C1530.4 2269 1534.4 2274.7 1538.9 2280C1541.9 2283.5 1544.4 2287.6 1548.3 2290C1551.1 2291.7 1554.3 2293.1 1557.6 2293.3C1560.8 2293.6 1564 2292.6 1567 2291.7C1571.5 2290.3 1575.3 2287.2 1579.4 2285C1583.6 2282.8 1587.3 2279.4 1591.9 2278.3C1595.9 2277.4 1600.3 2277.4 1604.4 2278.3C1608.9 2279.4 1613 2282.3 1616.8 2285C1621.5 2288.3 1625.6 2292.3 1629.3 2296.7C1634.4 2302.6 1637.8 2309.9 1641.7 2316.7C1646.2 2324.3 1650.3 2332.1 1654.2 2340C1657.5 2346.6 1659.5 2353.8 1663.6 2360C1666.3 2364.2 1668.7 2369 1672.9 2371.7C1675.7 2373.4 1678.9 2374.7 1682.2 2375C1685.4 2375.2 1688.6 2374.5 1691.6 2373.3C1695.1 2371.9 1697.8 2368.9 1700.9 2366.7C1704 2364.4 1706.7 2361.4 1710.3 2360C1713.2 2358.8 1716.5 2357.9 1719.6 2358.3C1723.1 2358.8 1726.1 2361.2 1729 2363.3C1732.6 2366 1735.4 2369.8 1738.3 2373.3C1743 2379 1746.8 2385.4 1750.8 2391.7C1755.2 2398.7 1758.9 2406.2 1763.2 2413.3C1766.3 2418.4 1768.7 2423.9 1772.6 2428.3C1775.4 2431.5 1778 2435.4 1781.9 2436.7C1784.9 2437.6 1788.3 2437.5 1791.3 2436.7C1795 2435.6 1797.6 2432.4 1800.6 2430C1803.9 2427.4 1806.1 2423.3 1810 2421.7C1812.9 2420.4 1816.2 2419.6 1819.3 2420C1822.8 2420.5 1825.7 2423.1 1828.7 2425C1833.4 2428.1 1840.3 2433.6 1844.4 2439.3C1847.1 2443 1848.8 2447.2 1850.8 2451.2C1853 2455.6 1854.9 2460.3 1857.1 2464.7C1859.1 2468.8 1860.8 2473 1863.5 2476.6C1865.3 2479.1 1867.2 2481.7 1869.8 2483.4C1871.7 2484.6 1874.4 2486 1876.1 2485.9C1877.2 2485.9 1878.3 2485.5 1879.3 2485.1C1880.9 2484.4 1883.5 2481.7 1885.6 2480C1887.7 2478.3 1889.7 2476.4 1892 2474.9C1894 2473.6 1896.1 2472.5 1898.3 2471.5C1900.4 2470.6 1902.5 2469.6 1904.6 2469C1906.7 2468.4 1908.8 2467.9 1911 2467.8C1913.1 2467.7 1915.2 2467.7 1917.3 2468.1C1919.5 2468.6 1921.7 2469.5 1923.6 2470.7C1926.1 2472.2 1928.1 2474.4 1930 2476.6C1932.6 2479.6 1934.4 2483.3 1936.3 2486.8C1938.9 2491.6 1940.6 2496.9 1942.7 2502C1944.9 2507.6 1946.8 2513.4 1949 2519C1951 2524.1 1953 2529.6 1955.3 2534.2C1956.8 2537.1 1957.9 2540.9 1960.1 2542.7C1961.5 2543.9 1963 2545.3 1964.8 2545.3C1966.6 2545.3 1968.2 2543.8 1969.6 2542.7C1971.7 2541 1972.7 2538.2 1974.3 2535.9C1976.4 2533.1 1978.3 2530.1 1980.7 2527.5C1982.6 2525.3 1984.4 2522.8 1987 2521.5C1989 2520.5 1991.2 2520 1993.3 2519.8C1995.5 2519.7 1997.7 2519.8 1999.7 2520.7C2002.5 2521.9 2004.2 2525 2006 2527.5C2008.7 2531 2010.4 2535.3 2012.4 2539.3C2014.7 2544.3 2016.5 2549.5 2018.7 2554.6C2020.7 2559.1 2022.8 2563.7 2025 2568.1C2027.6 2573.3 2030.3 2578.3 2032.9 2583.4"/>
<path stroke="#00f" stroke-width="8.8" transform="scale(1.07 1)" d="M565.1 1640.8L572.6 1616.7L576.9 1610.8L579.3 1721.7L582.7 1593.3L591 1489.2L595.6 1802.5L601.9 1518.3L606.1 1780L609.2 1512.5L613.9 1530.8L615.9 1822.5L623.2 1610L628.7 1535L632.9 1730L636 1483.3L640 1663.3L640.8 1927.5L641.6 1630L646.1 1559.2L650.5 1559.2L659 1540L660.9 1740.8L669.2 1626.7L678.5 1570L681.9 1691.7L688.3 1546.7L690.2 1675L698 1617.5L701.9 1715.6L706.8 1593.1L708.8 1720.6L716.7 1660L724.3 1624.4L731.9 1681.9L732.7 1627.5L739.1 1686.9L739.7 1630.6L743 1672.5L746.5 1676.2L750 1669.4L753.7 1729.4L757 1632.2L760.5 1718.1L761.7 1670.6L768.7 1670.2L773.4 1739.4L776.6 1671.2L778.6 1740L783.9 1728.8L786.8 1735L791.1 1711.2L792.1 1740C794.4 1745.8 796.6 1751.7 799.1 1757.5C802 1764.3 805.8 1770.6 808.4 1777.5C811.5 1785.6 813.3 1794.1 815.4 1802.5C817.5 1810.8 819.5 1819.1 821.3 1827.5C823 1835.8 824.4 1844.2 825.9 1852.5C827.5 1860.8 829.2 1869.1 830.6 1877.5C832 1885.8 832.9 1894.2 834.1 1902.5C835.3 1910.8 836.5 1919.2 837.6 1927.5C838.7 1935.8 839.6 1944.2 840.7 1952.5C841.4 1958.3 841.9 1965.3 843 1970C843.6 1972.9 843 1979.7 845.3 1978.8C846.8 1978.2 847.3 1976.3 848.1 1975C849.5 1972.9 850.5 1960 851.6 1952.5C852.9 1944.2 854 1935.8 855.1 1927.5C856.3 1919.2 857.2 1910.8 858.6 1902.5C860 1895 861 1887.3 863.3 1880C864.9 1874.9 866.8 1869.8 869.2 1865C871.2 1860.7 873.5 1856.4 876.2 1852.5C878.3 1849.4 880.2 1846 883.2 1843.8C885.3 1842.1 887.6 1840.7 890.2 1840C892.4 1839.4 894.9 1839.4 897.2 1839.5C900.4 1839.6 903.6 1840.1 906.5 1841.2C910 1842.6 913 1845.1 915.9 1847.5C919.4 1850.4 922.3 1854 925.2 1857.5C928.6 1861.5 931.6 1865.7 934.6 1870C937.9 1874.9 941 1879.9 943.9 1885C947.2 1890.7 950.3 1896.6 953.3 1902.5C956.6 1909.1 959.5 1915.8 962.6 1922.5C965.7 1929.2 968.8 1935.8 972 1942.5C975.1 1949.2 978.2 1955.8 981.3 1962.5C983.6 1967.5 985.5 1972.8 988.3 1977.5C990.4 1981 992 1985.2 995.3 1987.5C997.4 1989 999.8 1990.3 1002.3 1990.5C1004.7 1990.7 1007.2 1989.7 1009.3 1988.8C1012.9 1987.2 1015.7 1983 1018.7 1980C1021.9 1976.8 1024.8 1973.2 1028 1970C1031.1 1967 1034 1963.9 1037.4 1961.2C1040.3 1958.9 1043.5 1956.9 1046.7 1955C1050.8 1952.6 1054.7 1949.7 1059.2 1948.3C1063.2 1947.1 1067.5 1946.8 1071.7 1946.7C1075.8 1946.5 1080 1946.8 1084.1 1947.3C1088.3 1947.9 1092.6 1948.6 1096.6 1950C1101 1951.6 1105 1954.2 1109 1956.7C1113.3 1959.2 1117.7 1961.8 1121.5 1965C1126.2 1968.9 1129.9 1973.8 1134 1978.3C1138.3 1983.2 1142.3 1988.3 1146.4 1993.3C1150.6 1998.3 1154.8 2003.2 1158.9 2008.3C1163.2 2013.8 1167.5 2019.2 1171.3 2025C1176 2031.9 1179.5 2039.5 1183.8 2046.7C1187.8 2053.4 1192.1 2060 1196.3 2066.7C1200.4 2073.3 1204.1 2080.3 1208.7 2086.7C1212.6 2091.9 1216.6 2098.1 1221.2 2101.7C1224.1 2103.9 1227.1 2106.2 1230.5 2107.3C1233.5 2108.3 1236.7 2108.4 1239.9 2108.3C1244.1 2108.3 1248.2 2106.9 1252.3 2106C1256.5 2105 1260.6 2103.7 1264.8 2102.7C1268.9 2101.7 1273 2100.3 1277.3 2100C1281.4 2099.7 1285.6 2099.9 1289.7 2100.7C1294 2101.5 1298.2 2103.1 1302.2 2105C1306.7 2107.2 1310.6 2110.4 1314.6 2113.3C1318.9 2116.5 1322.9 2120 1327.1 2123.3C1331.3 2126.7 1335.6 2129.7 1339.6 2133.3C1344 2137.4 1348.1 2142 1352 2146.7C1356.5 2152 1360.3 2157.8 1364.5 2163.3C1368.6 2168.9 1372.5 2174.7 1376.9 2180C1380.9 2184.7 1384.7 2189.4 1389.4 2193.3C1392.3 2195.8 1395.3 2198.3 1398.8 2200C1401.7 2201.5 1404.9 2202.7 1408.1 2203.3C1412.2 2204.1 1416.4 2203.8 1420.6 2203.3C1424.8 2202.9 1428.8 2201.1 1433 2200.7C1439.2 2200 1445.8 2199.8 1451.7 2201.7C1456.2 2203.1 1460.2 2205.8 1464.2 2208.3C1468.6 2211.2 1472.8 2214.6 1476.6 2218.3C1481.3 2222.8 1485.1 2228.2 1489.1 2233.3C1493.4 2238.8 1497.5 2244.4 1501.6 2250C1505.9 2256 1509.4 2262.6 1514 2268.3C1517.9 2273.1 1521.7 2277.9 1526.5 2281.7C1530.3 2284.7 1534.3 2287.8 1538.9 2289.3C1542.9 2290.6 1547.2 2290.6 1551.4 2290.7C1555.6 2290.8 1559.7 2290.2 1563.9 2290C1568 2289.8 1572.2 2289.2 1576.3 2289.3C1580.5 2289.4 1584.8 2289.6 1588.8 2290.7C1593.2 2291.9 1597.3 2294.2 1601.2 2296.7C1605.8 2299.5 1609.9 2303 1613.7 2306.7C1618.4 2311.2 1622.1 2316.6 1626.2 2321.7C1630.5 2327.1 1634 2333.2 1638.6 2338.3C1642.5 2342.5 1646.2 2347.1 1651.1 2350C1654.9 2352.3 1659.1 2354.4 1663.6 2355C1667.7 2355.6 1672 2355 1676 2354C1680.4 2352.9 1684.1 2349.7 1688.5 2348.3C1692.5 2347.1 1696.7 2346.2 1700.9 2346C1705.1 2345.8 1709.5 2345.9 1713.4 2347.3C1718.3 2349.1 1722.1 2353.1 1725.9 2356.7C1730.9 2361.5 1734.4 2367.6 1738.3 2373.3C1742.8 2379.8 1746.7 2386.6 1750.8 2393.3C1755.1 2400.5 1758.7 2408 1763.2 2415C1766.2 2419.6 1768.3 2424.9 1772.6 2428.3C1775.3 2430.5 1778.4 2433.3 1781.9 2433.3C1785.5 2433.3 1788.4 2430.4 1791.3 2428.3C1795 2425.6 1797.4 2421.5 1800.6 2418.3C1803.6 2415.4 1806.1 2411.7 1810 2410C1812.9 2408.7 1816.2 2407.9 1819.3 2408.3C1822.8 2408.8 1825.7 2411.3 1828.7 2413.3C1833.3 2416.5 1840.3 2424.2 1844.4 2430.8C1847.1 2435.1 1848.8 2439.8 1850.8 2444.4C1853 2449.4 1855.1 2454.5 1857.1 2459.7C1859.3 2465.3 1861.1 2471.1 1863.5 2476.6C1865.4 2481.2 1867.5 2486.4 1869.8 2490.2C1871.2 2492.5 1871.8 2497 1874.5 2496.9C1876.9 2496.9 1877.8 2493.7 1879.3 2491.9C1881.6 2489 1883.5 2485.1 1885.6 2481.7C1887.7 2478.3 1889.7 2474.8 1892 2471.5C1894 2468.6 1895.8 2465.5 1898.3 2463.1C1900.2 2461.1 1902.2 2459.1 1904.6 2458C1906.6 2457 1908.8 2456.6 1911 2456.3C1913.1 2455.9 1915.2 2455.8 1917.3 2455.9C1919.5 2456.1 1921.6 2456.3 1923.6 2457.1C1926 2458 1928 2459.7 1930 2461.4C1932.4 2463.3 1934.5 2465.7 1936.3 2468.1C1939 2471.7 1940.6 2476 1942.7 2480C1944.9 2484.5 1947 2489 1949 2493.6C1951.2 2498.6 1953.5 2503.6 1955.3 2508.8C1957.1 2513.8 1958.7 2518.9 1960.1 2524.1C1961.3 2528.5 1962.1 2533.1 1963.3 2537.6C1964.2 2541.6 1965 2545.8 1966.4 2549.5C1967.3 2551.8 1967.5 2555 1969.6 2556.3C1971 2557.1 1972.8 2557.5 1974.3 2557.1C1976.4 2556.7 1977.7 2554.5 1979.1 2552.9C1981.2 2550.4 1982.3 2547.2 1983.8 2544.4C1985.4 2541.6 1986.9 2538.7 1988.6 2535.9C1990.1 2533.6 1991.5 2531.2 1993.3 2529.2C1994.8 2527.6 1996.2 2525.9 1998.1 2524.9C2000 2523.9 2002.3 2523.4 2004.4 2523.2C2006.6 2523.1 2008.7 2523.4 2010.8 2524.1C2013.1 2524.8 2015.2 2526 2017.1 2527.5C2019.6 2529.3 2021.5 2531.9 2023.4 2534.2C2025.7 2536.9 2027.6 2539.9 2029.8 2542.7C2031.8 2545.3 2034 2547.8 2036.1 2550.3"/>
<path stroke="#000" stroke-width="7.9" d="M608.5 1863.3C609.9 1855.6 611.1 1847.7 612.7 1840C614.2 1832.7 615.4 1821.3 617.7 1818.3C619.1 1816.5 621.8 1814.1 622.7 1813.3C623.2 1812.9 623.7 1812.3 624.3 1812C625.3 1811.5 627.9 1819.5 629.3 1823.3C631.4 1828.8 632.1 1834.6 634.3 1840C635.8 1843.4 637 1847.1 639.3 1850C640.8 1851.9 642.2 1854 644.3 1855C645.9 1855.7 647.7 1856.1 649.3 1855.8C651.2 1855.6 652.8 1854.4 654.3 1853.3C656.7 1851.6 658.4 1848.5 660.2 1845.8C662.4 1842.4 663.8 1838.5 666 1835C667.8 1832.1 669.5 1829.1 671.8 1826.7C673.6 1824.8 675.6 1820.8 677.7 1821.7C678.9 1822.2 679.3 1823.9 680.2 1825L680.2 1779.2C681.6 1782.2 681.4 1788.2 684.3 1788.3C686.2 1788.4 687.8 1786.9 689.3 1785.8C691.7 1784.1 694 1775.4 696 1770C697.5 1765.9 698.5 1758.3 700.2 1757.5C701.2 1757 702.4 1756.5 703.5 1756.7C705.3 1756.9 706.5 1759.8 707.7 1761.7C709.5 1764.6 710.5 1771.6 711.8 1776.7C713 1781.4 714.1 1786.1 715.2 1790.8C716.6 1789.6 717.7 1787.9 719.3 1787C720.9 1786.2 722.7 1786.4 724.3 1785.8C726.1 1785.2 727.8 1784.4 729.3 1783.3C731.3 1782 732.7 1780.1 734.3 1778.3C736.1 1776.5 737.3 1773.8 739.3 1772.5C740.6 1771.7 742 1770.8 743.5 1770.8C745 1770.8 746.4 1771.7 747.7 1772.5C749.7 1773.8 750.9 1779.7 752.7 1783.3C754.3 1786.7 755.9 1790.1 757.7 1793.3C759.2 1796.2 761.4 1799.8 762.7 1801.7C763.5 1802.8 764.3 1803.9 765.2 1805L766 1795C767.7 1794.4 769.2 1793.4 771 1793.3C772.4 1793.3 773.8 1794.3 775.2 1794.2C777.4 1793.9 779.2 1791.5 781 1790C783.4 1788 785.2 1784.6 787.7 1783.3C789.2 1782.5 790.9 1781.5 792.7 1781.7C794.7 1781.9 796.2 1783.6 797.7 1785C800 1787.2 801 1791.7 802.7 1795C804.3 1798.3 805.9 1801.7 807.7 1805C809.2 1807.8 810.6 1810.8 812.7 1813.3C814.4 1815.5 816.1 1817.9 818.5 1819.2C820.3 1820.1 822.3 1820.5 824.3 1820.8C827.5 1821.4 833.4 1818.4 837.5 1820C840.5 1821.2 842.6 1824.1 845 1826.2C847.6 1828.6 850.1 1831.2 852.5 1833.8C855.1 1836.6 857.5 1839.6 860 1842.5C862.5 1845.4 864.7 1848.6 867.5 1851.2C869.8 1853.5 872.4 1855.6 875 1857.5C877.4 1859.3 880 1860.8 882.5 1862.5C885 1864.2 887.5 1865.8 890 1867.5C892.5 1869.2 895 1870.8 897.5 1872.5C900 1874.2 902.6 1875.6 905 1877.5C908.8 1880.5 916.2 1892.7 920 1896.2C922.4 1898.5 924.8 1900.7 927.5 1902.5C929.9 1904 932.3 1905.4 935 1906.2C938.2 1907.3 941.9 1906.3 945 1907.5C947.8 1908.6 950.2 1910.6 952.5 1912.5C955.3 1914.7 957.4 1917.6 960 1920C962.4 1922.2 964.5 1924.9 967.5 1926.2C969.8 1927.3 972.4 1927.7 975 1928C978.3 1928.4 981.7 1927.2 985 1927.5C988.4 1927.8 991.7 1929 995 1930C998.4 1931.1 1001.5 1933 1005 1933.8C1008.3 1934.5 1011.7 1934.7 1015 1934.5C1018.4 1934.3 1021.6 1932.7 1025 1932.5C1028.3 1932.3 1031.7 1932.5 1035 1933C1038.4 1933.5 1041.6 1935.1 1045 1935.5C1048.3 1935.9 1051.7 1935.7 1055 1935.5C1058.3 1935.3 1061.7 1934.6 1065 1934.5C1068.3 1934.4 1071.7 1934.3 1075 1935C1078.5 1935.7 1081.6 1937.6 1085 1938.8C1088.3 1939.9 1091.6 1941.2 1095 1942C1098.3 1942.8 1101.7 1943 1105 1943.8C1108.4 1944.5 1111.8 1945.1 1115 1946.2C1118.5 1947.5 1121.7 1949.6 1125 1951.2C1130.3 1953.9 1139.7 1957.7 1146.7 1961.7C1151.2 1964.2 1155.9 1966.7 1160 1970C1165.2 1974.2 1168.7 1980.1 1173.3 1985C1177.6 1989.6 1182.1 1994 1186.7 1998.3C1191 2002.4 1195.9 2005.8 1200 2010C1205 2015.1 1209 2021 1213.3 2026.7C1217.9 2032.7 1221.7 2039.3 1226.7 2045C1230.8 2049.7 1235.4 2054 1240 2058.3C1244.3 2062.4 1248.7 2066.3 1253.3 2070C1257.7 2073.5 1261.6 2077.8 1266.7 2080C1269.8 2081.4 1273.2 2082.3 1276.7 2082.7C1281.1 2083.2 1285.5 2081.8 1290 2081.7C1294.4 2081.5 1298.9 2081.8 1303.3 2081.7C1307.8 2081.5 1312.2 2081.2 1316.7 2080.7C1321.1 2080.1 1325.5 2078.7 1330 2078.3C1334.4 2078 1338.9 2078.1 1343.3 2078.3C1347.8 2078.6 1352.3 2079.2 1356.7 2080C1361.2 2080.8 1365.7 2081.8 1370 2083.3C1374.7 2085 1379 2087.6 1383.3 2090C1387.9 2092.6 1392.3 2095.4 1396.7 2098.3C1401.3 2101.5 1405.9 2104.6 1410 2108.3C1415 2112.8 1419.2 2118.1 1423.3 2123.3C1428.3 2129.6 1432.1 2136.8 1436.7 2143.3C1441 2149.5 1445.8 2155.4 1450 2161.7C1454.7 2168.7 1458.4 2176.8 1463.3 2183.3C1466.4 2187.4 1469.4 2191.7 1473.3 2195C1476.4 2197.6 1479.7 2199.9 1483.3 2201.7C1486.5 2203.2 1489.9 2204.5 1493.3 2205C1496.6 2205.5 1500 2205.5 1503.3 2205C1508 2204.3 1512.2 2201.7 1516.7 2200C1521.1 2198.3 1525.4 2196.2 1530 2195C1537.4 2193.1 1545.8 2191.4 1553.3 2193.3C1558.1 2194.6 1562.4 2197.4 1566.7 2200C1571.4 2202.9 1575.9 2206.3 1580 2210C1585 2214.5 1589.1 2219.8 1593.3 2225C1598.1 2230.9 1602.3 2237.1 1606.7 2243.3C1611.3 2249.9 1615.6 2256.7 1620 2263.3C1623.3 2268.3 1626.1 2273.7 1630 2278.3C1633 2281.9 1636.1 2285.7 1640 2288.3C1643.1 2290.5 1646.3 2292.7 1650 2293.3C1653.3 2293.9 1656.7 2293.4 1660 2292.7C1664.8 2291.6 1668.8 2288.4 1673.3 2286.7C1677.7 2285.1 1682.1 2283.5 1686.7 2282.7C1691.1 2281.9 1695.6 2281.3 1700 2281.7C1704.6 2282 1709.2 2283.1 1713.3 2285C1718.4 2287.3 1722.5 2291.4 1726.7 2295C1731.4 2299.1 1735.9 2303.6 1740 2308.3C1745 2314 1748.9 2320.6 1753.3 2326.7C1757.8 2332.8 1762.2 2338.9 1766.7 2345C1770 2349.5 1772.5 2354.6 1776.7 2358.3C1779.7 2361 1782.9 2363.7 1786.7 2365C1789.8 2366.1 1793.4 2366.5 1796.7 2366C1800.3 2365.5 1803.4 2363.2 1806.7 2361.7C1811.2 2359.6 1815.4 2356.8 1820 2355C1823.3 2353.7 1826.5 2352 1830 2351.7C1833.3 2351.3 1836.8 2351.7 1840 2352.7C1843.7 2353.8 1846.9 2356.1 1850 2358.3C1853.8 2361.1 1856.8 2364.9 1860 2368.3C1864.8 2373.6 1869.2 2379.2 1873.3 2385C1878.3 2391.9 1882.1 2399.5 1886.7 2406.7C1889.9 2411.7 1892.7 2417.6 1896.7 2421.7C1899.2 2424.2 1901.6 2427.3 1905 2428.3C1907.7 2429.1 1910.6 2429 1913.3 2428.3C1917.2 2427.4 1920.1 2424.1 1923.3 2421.7C1926.8 2419.1 1929.6 2415.5 1933.3 2413.3C1936.4 2411.5 1939.8 2409.6 1943.3 2409.3C1946.7 2409.1 1950.2 2410.4 1953.3 2411.7C1958.4 2413.8 1963 2418.1 1966.8 2422.4C1969.5 2425.4 1971.4 2429.1 1973.6 2432.5C1976 2436.4 1978.2 2440.4 1980.3 2444.4C1982.7 2448.9 1985 2453.4 1987.1 2458C1989.5 2463 1991.5 2468.2 1993.9 2473.2C1996.1 2477.8 1998.2 2482.4 2000.7 2486.8C2002.3 2489.7 2003.5 2492.8 2005.8 2495.3C2007.3 2496.9 2008.8 2498.6 2010.8 2499.5C2012.4 2500.2 2014.2 2500.7 2015.9 2500.7C2017.7 2500.7 2019.4 2500.2 2021 2499.5C2023.6 2498.4 2025.6 2495.6 2027.8 2493.6C2030.1 2491.4 2032.1 2488.7 2034.6 2486.8C2036.7 2485.1 2039 2483.7 2041.4 2482.5C2043.5 2481.5 2045.7 2480.3 2048.1 2480C2050.4 2479.7 2052.8 2480.1 2054.9 2480.8C2057.4 2481.7 2059.6 2483.4 2061.7 2485.1C2064.2 2487 2066.4 2489.4 2068.5 2491.9C2071.1 2495 2073.1 2498.6 2075.3 2502C2077.7 2505.9 2079.9 2509.9 2082 2513.9C2084.4 2518.4 2086.6 2522.9 2088.8 2527.5C2091.1 2532 2093.1 2536.6 2095.6 2541C2097.2 2543.9 2098.6 2546.9 2100.7 2549.5C2102.2 2551.4 2103.6 2553.6 2105.8 2554.6C2107.3 2555.3 2109.1 2555.7 2110.8 2555.4C2112.7 2555.2 2114.4 2554 2115.9 2552.9C2118 2551.3 2119.4 2549 2121 2546.9C2122.9 2544.5 2124.2 2541.7 2126.1 2539.3C2127.7 2537.3 2129.2 2535.1 2131.2 2533.4C2132.7 2532.1 2134.4 2530.7 2136.3 2530C2137.9 2529.4 2139.6 2529 2141.4 2529.2C2143.1 2529.3 2144.9 2530 2146.4 2530.8C2148.5 2532 2149.9 2534.1 2151.5 2535.9C2153.4 2538.1 2155 2540.4 2156.6 2542.7C2158.5 2545.4 2160 2548.4 2161.7 2551.2C2163.4 2554 2165.1 2556.8 2166.8 2559.7C2168.5 2562.5 2170.2 2565.3 2171.9 2568.1C2174.1 2571.8 2176.4 2575.5 2178.6 2579.2"/>
<path stroke="#000" stroke-width="6.9" stroke-dasharray="14 19" d="M607.7 1816.3C612.7 1816 617.7 1815.4 622.7 1815.3C630.7 1815.2 643.2 1817.2 653.5 1818C661 1818.6 670.5 1820 676 1819.7C679.5 1819.4 682.9 1818.8 686.3 1818.3L686.3 1766.7C689.6 1765.6 693.1 1765.2 696 1763.3C698.7 1761.6 699.5 1755.9 702.7 1756.3C705.1 1756.7 706.3 1759.7 707.7 1761.7C709.9 1764.8 709.5 1776.5 712.7 1778.3C714.7 1779.5 717.1 1780.3 719.3 1780C723 1779.5 723.4 1770.8 727.7 1769.7C730.4 1769 733.2 1770.5 736 1770.8C739.3 1771.2 742.8 1770.7 746 1771.7C749.7 1772.8 752.4 1776.2 756 1777.5C759.7 1778.8 764 1780.6 767.7 1779.2C770 1778.2 770.9 1774.2 773.5 1774.2C776.7 1774.1 776.6 1780 779.3 1781.7C783.2 1783.9 789.7 1780.4 792.7 1781.7C794.5 1782.5 796.2 1783.6 797.7 1785C800 1787.2 801 1791.7 802.7 1795C804.3 1798.3 805.9 1801.7 807.7 1805C809.2 1807.8 810.6 1810.8 812.7 1813.3C814.4 1815.5 816.1 1817.9 818.5 1819.2C820.3 1820.1 822.3 1820.5 824.3 1820.8C827.5 1821.4 833.4 1818.4 837.5 1820C840.5 1821.2 842.6 1824.1 845 1826.2C847.6 1828.6 850.1 1831.2 852.5 1833.8C855.1 1836.6 857.5 1839.6 860 1842.5C862.5 1845.4 864.7 1848.6 867.5 1851.2C869.8 1853.5 872.4 1855.6 875 1857.5C877.4 1859.3 880 1860.8 882.5 1862.5C885 1864.2 887.5 1865.8 890 1867.5C892.5 1869.2 895 1870.8 897.5 1872.5C900 1874.2 902.3 1876.2 905 1877.5C909.3 1879.6 915.1 1879.2 920 1880.5C925.1 1881.8 929.9 1884 935 1885.5C941.6 1887.5 948.2 1889.2 955 1890.5C961.6 1891.7 968.3 1892.3 975 1893C981.7 1893.7 988.3 1894.1 995 1894.5C1003.3 1895 1011.7 1894.9 1020 1895.2C1028.3 1895.6 1036.7 1895.6 1045 1896.5C1050.9 1897.1 1056.7 1897.9 1062.5 1899C1068.4 1900.1 1074.2 1901.5 1080 1903C1085.9 1904.5 1091.8 1906 1097.5 1908"/>
<path stroke="#000" stroke-width="6.9" stroke-dasharray="15 15" d="M1097.5 1908C1103.4 1910 1109.3 1912.4 1115 1915C1123.6 1918.9 1131.9 1923.5 1140 1928.3C1146.9 1932.5 1153.5 1936.9 1160 1941.7C1165.7 1945.9 1171.4 1950.3 1176.7 1955C1182.5 1960.2 1187.9 1966 1193.3 1971.7C1199 1977.6 1204.7 1983.7 1210 1990C1215.9 1997 1221 2004.6 1226.7 2011.7C1232.1 2018.4 1237.3 2025.4 1243.3 2031.7C1248.5 2037 1254.1 2042 1260 2046.7C1265.3 2050.9 1270.5 2055.5 1276.7 2058.3C1281.9 2060.8 1287.6 2062.3 1293.3 2063.3C1299.9 2064.5 1306.7 2064 1313.3 2064C1320 2064 1326.7 2063.3 1333.3 2063.3C1340 2063.3 1346.7 2063.2 1353.3 2064C1360.1 2064.8 1366.9 2066 1373.3 2068.3C1379.2 2070.4 1384.7 2073.5 1390 2076.7C1395.8 2080.1 1401.5 2084 1406.7 2088.3C1411.5 2092.4 1415.7 2097.1 1420 2101.7C1424.6 2106.5 1428.9 2111.7 1433.3 2116.7C1437.8 2121.7 1442.5 2126.5 1446.7 2131.7C1451.4 2137.5 1455 2144.3 1460 2150C1464.1 2154.7 1468.7 2159 1473.3 2163.3C1477.7 2167.4 1481.6 2171.9 1486.7 2175"/>
<path stroke="#000" stroke-width="6.9" stroke-dasharray="13 10" d="M1486.7 2175C1490.8 2177.5 1495.3 2179.5 1500 2180.7C1506.5 2182.2 1513.3 2180.8 1520 2180.7C1526.7 2180.6 1533.3 2179.6 1540 2180C1546.7 2180.4 1553.5 2181.5 1560 2183.3C1564.6 2184.6 1569.1 2186.3 1573.3 2188.3C1578 2190.6 1582.4 2193.6 1586.7 2196.7C1591.4 2200.2 1595.9 2204.1 1600 2208.3C1605 2213.4 1609 2219.3 1613.3 2225C1617.9 2231 1622.2 2237.2 1626.7 2243.3C1631.1 2249.4 1635 2256 1640 2261.7C1644.1 2266.4 1648.2 2271.4 1653.3 2275C1657.4 2277.8 1661.8 2280.9 1666.7 2281.7C1671.1 2282.4 1675.5 2280.3 1680 2280C1686.6 2279.5 1693.4 2278.9 1700 2280C1704.6 2280.8 1709.2 2282 1713.3 2284C1718.3 2286.4 1722.5 2290.4 1726.7 2294C1731.4 2298.1 1735.9 2302.6 1740 2307.3C1744.9 2313 1748.7 2319.4 1753.3 2325.3C1757.7 2330.9 1763.3 2338.8 1766.7 2341.7C1768.8 2343.5 1770.9 2345.3 1773.3 2346.7C1777.2 2348.8 1782 2350.2 1786.7 2350.7C1791.1 2351.1 1795.6 2350 1800 2349.3C1805.6 2348.5 1811 2346.7 1816.7 2346C1821.1 2345.4 1825.6 2344.6 1830 2345C1834.6 2345.4 1839.3 2346.1 1843.3 2348.3"/>
<path stroke="#000" stroke-width="6.9" stroke-dasharray="8 6.5" d="M1843.3 2348.3C1847.4 2350.6 1850.4 2354.7 1853.3 2358.3C1855.8 2361.5 1857.7 2365.1 1860 2368.3C1863.7 2373.6 1869.2 2379.2 1873.3 2385C1878.3 2391.9 1881.8 2399.7 1886.7 2406.7C1889.8 2411.2 1892.2 2416.6 1896.7 2420C1899.6 2422.3 1902.9 2424.8 1906.7 2425C1911.9 2425.2 1915.6 2419.6 1920 2416.7C1924.5 2413.7 1928.3 2409.3 1933.3 2407.3C1937.5 2405.7 1942.2 2404.6 1946.7 2405C1951.4 2405.4 1956 2407.4 1960 2410C1966.3 2414.2 1969.6 2423.8 1973.6 2430.8C1976 2435.3 1978.2 2439.8 1980.3 2444.4C1982.7 2449.4 1985 2454.5 1987.1 2459.7C1989.5 2465.3 1991.4 2471.1 1993.9 2476.6C1996 2481.2 1998.2 2486.4 2000.7 2490.2C2002.2 2492.5 2002.9 2497 2005.8 2496.9C2008.2 2496.9 2009.3 2493.7 2010.8 2491.9C2013.4 2489 2015.4 2485.1 2017.6 2481.7C2019.9 2478.3 2022 2474.8 2024.4 2471.5C2026.5 2468.6 2028.5 2465.5 2031.2 2463.1C2033.2 2461.1 2035.4 2459.1 2038 2458C2040.1 2457 2042.4 2456.6 2044.7 2456.3C2047 2455.9 2049.3 2455.8 2051.5 2455.9C2053.8 2456.1 2056.2 2456.3 2058.3 2457.1C2060.8 2458 2063 2459.7 2065.1 2461.4C2067.6 2463.3 2069.9 2465.6 2071.9 2468.1C2074.7 2471.7 2076.5 2476 2078.6 2480C2081 2484.5 2083.3 2489 2085.4 2493.6C2087.8 2498.6 2090.2 2503.6 2092.2 2508.8C2094.1 2513.8 2095.8 2518.9 2097.3 2524.1C2098.6 2528.5 2099.5 2533.1 2100.7 2537.6C2101.7 2541.6 2102.5 2545.8 2104.1 2549.5C2105 2551.8 2105.3 2555 2107.5 2556.3C2108.9 2557.2 2110.9 2557.5 2112.5 2557.1C2114.7 2556.7 2116.1 2554.5 2117.6 2552.9C2119.9 2550.5 2121 2547.2 2122.7 2544.4C2124.4 2541.6 2125.9 2538.7 2127.8 2535.9C2129.4 2533.6 2130.9 2531.2 2132.9 2529.2C2134.4 2527.6 2136 2525.9 2138 2524.9C2140 2523.8 2142.4 2523.4 2144.7 2523.2C2147 2523.1 2149.3 2523.4 2151.5 2524.1C2154 2524.8 2156.2 2526 2158.3 2527.5C2160.9 2529.3 2162.9 2531.9 2165.1 2534.2C2167.5 2536.9 2169.5 2539.9 2171.9 2542.7C2174.1 2545.3 2176.4 2547.8 2178.6 2550.3"/>
</g>
<g clip-path="url(#cp2)" fill="none" stroke-linejoin="miter" stroke-miterlimit="1.8" stroke-linecap="butt">
<path stroke="#f00" stroke-width="8.8" transform="scale(1.07 1)" d="M553.7 3180L561.2 2616.2L571.7 2906.7L577.1 2683L582.9 2688.3L583.8 2860L587.2 2713.3L602 2868.3L611.7 2663L612.5 2876.7L618.4 2753L623.1 2816.7L633.2 2761.2L639.4 2836.7L646.4 2772L649.5 2855.8L654.2 2784.2L660.4 2850L682.2 2850L686.1 2888.3L689.3 2817L693.9 2821.7L696.3 2883.3L700.9 2905L704 2860L716.5 2883.3L729 2893.3L733.6 2900L739.9 2908.3L742.2 2946.7L744.5 2921.7L760.1 2946.7C764.1 2956.9 769.2 2970.8 772.2 2977.5C774.1 2981.7 776.5 2985.7 778 2990C780.6 2996.9 781.2 3006.7 782.7 3015C783.9 3021.7 785.2 3028.3 786.2 3035C787.7 3045 788.5 3055 789.7 3065C791.2 3077.5 792.8 3090 794.4 3102.5C796 3115 797.7 3127.5 799.1 3140C801.3 3160 804.2 3204.2 806.8 3236.2C807.8 3227.5 809 3218.8 809.8 3210C811.2 3196 811.7 3160 813.1 3135C814.4 3111.7 815.3 3081.1 817.8 3065C819.3 3054.9 821.1 3044.9 823.6 3035C825.3 3028.3 826.4 3020.1 829.4 3015C831.4 3011.8 833.3 3008.2 836.4 3006.2C838.5 3004.9 841 3003.8 843.5 3003.8C845.9 3003.8 848.3 3005 850.5 3006.2C853.4 3008 855.4 3011 857.5 3013.8C860.5 3017.9 862.4 3022.8 864.5 3027.5C867.3 3034 869.4 3040.8 871.5 3047.5C874.1 3055.7 876.3 3064.1 878.5 3072.5C881 3081.6 883.3 3090.8 885.5 3100C888 3110 890.1 3120 892.5 3130C894.8 3139.2 896.8 3150.7 899.5 3157.5C901.2 3161.8 903.2 3168.3 905.4 3170C906.8 3171.1 908.3 3172.6 910 3172.5C912.6 3172.4 913.3 3168.5 914.7 3166.2C916.9 3162.7 918.5 3157 920.6 3152.5C922.8 3147.5 924.9 3142.3 927.6 3137.5C929.7 3133.6 931.8 3129.7 934.6 3126.2C937.3 3123 940.4 3119.9 943.9 3117.5C946.8 3115.5 950 3113.8 953.3 3112.5C956.3 3111.3 959.4 3109.8 962.6 3110C966 3110.2 969 3112.2 972 3113.8C976.6 3116.2 980.3 3120.1 984.4 3123.3C988.6 3126.6 993 3129.7 996.9 3133.3C1000.2 3136.5 1003.5 3139.7 1006.2 3143.3C1010.1 3148.4 1012.5 3154.4 1015.6 3160C1018.7 3165.6 1021.7 3171.2 1024.9 3176.7C1027.9 3181.7 1030.8 3186.9 1034.3 3191.7C1037.2 3195.7 1040.5 3199.4 1043.6 3203.3C1046.7 3207.2 1050 3211 1053 3215C1056.2 3219.3 1058.6 3224.3 1062.3 3228.3C1065.1 3231.4 1067.8 3235 1071.7 3236.7C1074.5 3237.9 1077.8 3238.4 1081 3238.3C1084.2 3238.2 1087.2 3236.7 1090.3 3236C1094.5 3235.1 1098.6 3234.1 1102.8 3234C1107 3233.9 1111.1 3235 1115.3 3235.3C1119.4 3235.7 1123.6 3235.7 1127.7 3236C1130.8 3236.2 1134.1 3235.7 1137.1 3236.7C1140.6 3237.8 1143.4 3240.5 1146.4 3242.7C1149.6 3245 1152.6 3247.6 1155.8 3250C1158.9 3252.4 1161.9 3255 1165.1 3257.3C1168.1 3259.5 1171.6 3261 1174.5 3263.3C1178 3266.2 1180.9 3269.8 1183.8 3273.3C1187.2 3277.5 1190 3282.2 1193.1 3286.7C1196.3 3291.1 1199.2 3295.7 1202.5 3300C1205.5 3304 1208.4 3308.1 1211.8 3311.7C1214.7 3314.7 1217.9 3317.4 1221.2 3320C1224.2 3322.4 1227.3 3324.7 1230.5 3326.7C1233.5 3328.5 1236.5 3330.6 1239.9 3331.7C1243.9 3332.9 1248.2 3332.3 1252.3 3332.7C1256.5 3333.1 1260.7 3333.2 1264.8 3334C1269 3334.8 1273.1 3336.3 1277.3 3337.3C1281.4 3338.3 1285.6 3339 1289.7 3340C1293.9 3341 1298.2 3341.8 1302.2 3343.3C1306.6 3345 1310.8 3347.3 1314.6 3350C1319.3 3353.3 1323.3 3357.5 1327.1 3361.7C1330.5 3365.3 1333.5 3369.4 1336.4 3373.3C1339.7 3377.7 1342.5 3382.3 1345.8 3386.7C1348.8 3390.6 1352 3394.4 1355.1 3398.3C1358.3 3402.2 1361 3406.4 1364.5 3410C1367.4 3413 1370.3 3416.1 1373.8 3418.3C1379.5 3421.9 1390.5 3421.8 1398.8 3423.3C1403.9 3424.3 1409.2 3424.7 1414.3 3426C1419.7 3427.4 1424.9 3429.4 1429.9 3431.7C1435.3 3434.1 1440.9 3436.3 1445.5 3440C1450.6 3444.1 1454.2 3449.7 1457.9 3455C1462.8 3461.8 1465.8 3469.7 1470.4 3476.7C1474.2 3482.4 1477.9 3488.5 1482.9 3493.3C1486.6 3496.9 1490.6 3500.5 1495.3 3502.7C1499.2 3504.5 1503.5 3505.6 1507.8 3506C1511.9 3506.4 1516.1 3505 1520.2 3505C1524.4 3505 1528.7 3504.8 1532.7 3506C1537.3 3507.4 1541.2 3510.6 1545.2 3513.3C1549.6 3516.3 1553.8 3519.6 1557.6 3523.3C1562.3 3527.8 1566.1 3533.2 1570.1 3538.3C1574.4 3543.8 1577.7 3550.1 1582.6 3555C1586.3 3558.8 1590.2 3562.7 1595 3565C1598.9 3566.9 1603.2 3567.8 1607.5 3568.3C1611.6 3568.9 1615.8 3568.3 1619.9 3568.3C1624.1 3568.3 1628.3 3567.6 1632.4 3568.3C1636.8 3569.2 1641.1 3570.9 1644.9 3573.3C1650 3576.6 1653.3 3582.1 1657.3 3586.7C1661.6 3591.5 1665.1 3597.2 1669.8 3601.7C1673.6 3605.4 1677.8 3608.8 1682.2 3611.7C1686.2 3614.2 1690.1 3617.5 1694.7 3618.3C1698.8 3619.1 1703 3617.3 1707.2 3617.3C1711.3 3617.3 1715.6 3617.4 1719.6 3618.3C1724 3619.3 1728.2 3621.1 1732.1 3623.3C1736.7 3626 1740.6 3629.7 1744.5 3633.3C1749 3637.4 1752.9 3642.2 1757 3646.7C1761.2 3651.1 1764.4 3656.7 1769.5 3660C1773.7 3662.8 1779.4 3663.9 1783.6 3665.6C1786.3 3666.6 1788.9 3667.7 1791.5 3668.7C1794.2 3669.8 1796.8 3670.8 1799.5 3671.9C1802.1 3673 1804.8 3673.9 1807.4 3675.1C1810.1 3676.3 1812.9 3677.5 1815.3 3679.3C1818.4 3681.6 1820.7 3684.8 1823.2 3687.8C1826.1 3691.2 1828.5 3694.9 1831.1 3698.4C1833.8 3701.9 1836.1 3705.7 1839.1 3709C1841.5 3711.7 1844 3714.3 1847 3716.4C1849.4 3718.1 1852.1 3719.5 1854.9 3720.6C1857.4 3721.6 1860.1 3722.2 1862.8 3722.8C1865.4 3723.3 1868.1 3723.3 1870.7 3723.8C1873.4 3724.3 1876.2 3724.8 1878.7 3725.9C1881.7 3727.4 1884.3 3729.8 1886.6 3732.3C1890 3735.9 1891.9 3740.8 1894.5 3745C1897.1 3749.2 1899.3 3753.8 1902.4 3757.7C1904.8 3760.8 1906.9 3764.4 1910.3 3766.2C1912.8 3767.5 1915.5 3768.6 1918.3 3768.3C1921.2 3768 1923.5 3765.3 1926.2 3764.1C1928.8 3762.9 1931.3 3761.5 1934.1 3760.9C1936.7 3760.3 1939.4 3760.1 1942 3760.3C1944.7 3760.4 1947.5 3760.7 1949.9 3761.9C1953.8 3763.9 1955.5 3768.8 1957.9 3772.5C1960.9 3777.2 1962.7 3782.7 1965.8 3787.4C1968.2 3791.1 1969.9 3795.8 1973.7 3798C1976.1 3799.3 1978.9 3800.4 1981.6 3800.1C1984.8 3799.7 1986.7 3796.3 1989.5 3794.8C1992.1 3793.5 1994.7 3792.1 1997.5 3791.6C2000.1 3791.2 2002.8 3791.4 2005.4 3792C2008.2 3792.7 2010.8 3794.3 2013.3 3795.8C2016.2 3797.6 2018.7 3800 2021.2 3802.2C2024 3804.6 2026.5 3807.1 2029.1 3809.6C2031.8 3812.1 2034.4 3814.6 2037.1 3817"/>
<path stroke="#00f" stroke-width="8.8" transform="scale(1.07 1)" d="M549.1 2840.8L553.7 2867.5L558.4 2839.2L564.6 2720L568.5 2872.5L572.4 2708.3L574.8 2856.7L577.9 2816.7L585.7 2783.3L591.9 2724.2L593.5 2866.7L600.5 2693L604.4 2865.8L607.5 2774.2L611.4 2865L615.3 2774.2L619.2 2882.5L622.3 2774.2L627.7 2779.2L631.6 2870L637.1 2816.7L641.7 2851.7L645.6 2795L649.5 2840.8L653.4 2798.3L658.9 2806.7L662.8 2850L665.9 2807L667.4 2858.3L672.9 2814.2L679.9 2890L680.7 2813L688.5 2850L695.5 2901.7L696.7 2845L704 2866.7L707.2 2912.5L708.7 2863.3L715.7 2924.7L718.8 2865.8L724.3 2883.3L729 2932.5L729.8 2893.3L735.2 2941.7L738.3 2915L744.5 2921.7L748.8 2938.8L754.7 2947.5L759.7 2954.4L759.9 2967.5L761.7 2955L763.4 2941.2L765.2 2979.4L768.7 2970C769.9 2972.1 771.1 2974.2 772.2 2976.2C774 2979.6 776.5 2983.6 778 2987.5C779.2 2990.3 779.8 2993.3 780.7 2996.2L781 3022.5L783.3 2985L785 3015C786.2 3020 787.5 3025 788.6 3030C789.9 3036.6 790.9 3043.3 792.1 3050C793.3 3057.1 794.4 3064.2 795.6 3071.2C796.7 3078.3 798 3085.4 799.1 3092.5C800.8 3103.9 809.6 3213.1 810.7 3220C811.5 3224.3 810.9 3229.2 813.1 3233C816.5 3239.1 814.8 3217.7 815.4 3210C816.5 3197.7 817 3185 817.8 3172.5C818.5 3160 819.1 3147.5 820.1 3135C821.1 3122.5 822.1 3110 823.6 3097.5C824.9 3086.6 826 3075.7 828.3 3065C829.9 3057.4 831.1 3048.3 834.1 3042.5C836 3038.9 837.4 3033.3 841.1 3032.5C843.4 3032 846 3032.7 848.1 3033.8C851.5 3035.4 853.1 3041.1 855.1 3045C858.4 3051.3 860 3058.3 862.1 3065C864.8 3073.2 867 3081.6 869.2 3090C871.7 3099.9 873.8 3110 876.2 3120C878.5 3130 880.7 3140 883.2 3150C885 3157.5 886.8 3167 889 3172.5C890.4 3175.9 892 3181.1 893.7 3182.5C894.7 3183.3 895.9 3184.4 897.2 3184.5C899.3 3184.7 900.5 3180 901.9 3177.5C904 3173.6 905.8 3165.8 907.7 3160C909.7 3154.2 911.3 3148.2 913.6 3142.5C915.6 3137.4 917.9 3132.3 920.6 3127.5C922.7 3123.6 924.6 3119.5 927.6 3116.2C930.2 3113.3 933.2 3110.2 936.9 3108.8C939.8 3107.6 943.1 3107.5 946.3 3107.5C949.4 3107.5 952.6 3107.9 955.6 3108.8C958.9 3109.7 962 3111.3 965 3113C969.7 3115.8 979.3 3127.3 984.4 3133.3C987.7 3137.1 990.9 3140.9 993.8 3145C997.2 3149.8 1000.1 3154.9 1003.1 3160C1006.4 3165.5 1009.5 3171.1 1012.5 3176.7C1015.7 3182.7 1018.7 3188.9 1021.8 3195C1024.9 3201.1 1027.9 3207.3 1031.2 3213.3C1034.2 3218.9 1037.3 3224.5 1040.5 3230C1043.5 3235.1 1046.2 3240.4 1049.8 3245C1052.7 3248.6 1055.4 3252.4 1059.2 3255C1062 3256.9 1065.1 3258.8 1068.5 3259.3C1071.6 3259.8 1074.9 3259.1 1077.9 3258.3C1081.2 3257.4 1084.1 3255.4 1087.2 3254C1090.3 3252.6 1093.4 3251.1 1096.6 3250C1099.6 3248.9 1102.8 3248.2 1105.9 3247.3C1109 3246.5 1112.1 3245.6 1115.3 3245C1119.4 3244.3 1123.6 3243.5 1127.7 3244C1132.1 3244.5 1136.4 3246.1 1140.2 3248.3C1143.8 3250.5 1146.3 3254 1149.5 3256.7C1152.6 3259.2 1155.9 3261.4 1158.9 3264C1162.2 3266.9 1165.2 3270.2 1168.2 3273.3C1171.4 3276.6 1174.6 3279.9 1177.6 3283.3C1180.8 3287.1 1183.9 3291 1186.9 3295C1190.2 3299.3 1193 3304 1196.3 3308.3C1199.3 3312.3 1202.3 3316.2 1205.6 3320C1208.6 3323.4 1211.8 3326.7 1215 3330C1218.1 3333.3 1220.9 3336.9 1224.3 3340C1227.2 3342.7 1230 3345.7 1233.6 3347.3C1236.6 3348.6 1239.8 3349.1 1243 3349.3C1246.1 3349.5 1249.2 3348.9 1252.3 3348.7C1256.5 3348.3 1260.6 3347.4 1264.8 3347.3C1269 3347.3 1273.1 3347.9 1277.3 3348.3C1281.4 3348.8 1285.6 3349.1 1289.7 3350C1292.9 3350.7 1296.2 3351.3 1299.1 3352.7C1302.6 3354.4 1305.6 3357.3 1308.4 3360C1312 3363.5 1314.5 3367.9 1317.8 3371.7C1320.7 3375.1 1324.1 3378.2 1327.1 3381.7C1330.4 3385.4 1333.5 3389.4 1336.4 3393.3C1339.7 3397.7 1342.5 3402.3 1345.8 3406.7C1348.8 3410.6 1351.9 3414.6 1355.1 3418.3C1358.1 3421.8 1361 3425.4 1364.5 3428.3C1367.4 3430.8 1370.4 3433.3 1373.8 3435C1379.3 3437.7 1389 3437.6 1395.6 3438.3C1399.8 3438.8 1404 3438.8 1408.1 3439.3C1412.3 3439.9 1416.5 3440.5 1420.6 3441.7C1424.9 3442.9 1429.1 3444.6 1433 3446.7C1437.5 3449 1441.6 3451.8 1445.5 3455C1450.2 3458.9 1453.8 3463.9 1457.9 3468.3C1462.1 3472.8 1465.7 3477.8 1470.4 3481.7C1474.2 3484.9 1478.5 3487.5 1482.9 3490C1486.9 3492.3 1491 3494.3 1495.3 3496C1499.4 3497.6 1503.7 3498.5 1507.8 3500C1512 3501.5 1516.1 3503.3 1520.2 3505C1524.4 3506.7 1528.7 3507.9 1532.7 3510C1537.1 3512.3 1541.1 3515.4 1545.2 3518.3C1549.5 3521.5 1553.5 3525 1557.6 3528.3C1561.8 3531.7 1565.6 3535.4 1570.1 3538.3C1574 3540.9 1578.3 3543 1582.6 3545C1586.6 3546.9 1590.8 3548.6 1595 3550C1599.1 3551.4 1603.3 3552.5 1607.5 3553.3C1611.6 3554.2 1615.9 3554 1619.9 3555C1624.3 3556.1 1628.6 3557.6 1632.4 3560C1637.5 3563.3 1640.9 3568.7 1644.9 3573.3C1649.3 3578.6 1652.9 3584.7 1657.3 3590C1661.2 3594.7 1664.9 3599.7 1669.8 3603.3C1673.6 3606.1 1677.7 3608.6 1682.2 3610C1686.2 3611.2 1690.5 3611.4 1694.7 3611.7C1698.8 3611.9 1703 3611.4 1707.2 3611.7C1711.3 3611.9 1715.7 3612 1719.6 3613.3C1723 3614.5 1726.2 3616.2 1729 3618.3C1732.9 3621.4 1735.4 3625.9 1738.3 3630C1741.7 3634.8 1744.5 3640 1747.7 3645C1750.8 3650 1753.6 3655.2 1757 3660C1759.9 3664.1 1761.8 3669.7 1766.4 3671.7C1771.7 3674 1779.3 3669.9 1783.6 3668.7C1786.3 3668 1788.8 3666.7 1791.5 3666.2C1794.1 3665.7 1796.8 3665.3 1799.5 3665.6C1802.2 3665.8 1804.9 3666.6 1807.4 3667.7C1810.3 3668.9 1812.9 3670.9 1815.3 3673C1818.4 3675.7 1820.7 3679.2 1823.2 3682.5C1826.1 3686.2 1828.7 3690.1 1831.1 3694.2C1834.1 3698.9 1836.4 3704.1 1839.1 3709C1841 3712.5 1841.8 3717.1 1845 3719.6C1847.3 3721.3 1850.1 3722.5 1852.9 3722.8C1855.6 3723 1858.3 3722 1860.8 3721.3C1863.6 3720.4 1866 3718.7 1868.8 3717.9C1871.3 3717.1 1874 3716.3 1876.7 3716.4C1879.4 3716.5 1882.2 3717.3 1884.6 3718.5C1887.8 3720.2 1890.1 3723.3 1892.5 3725.9C1895.5 3729.2 1898.2 3732.7 1900.4 3736.5C1902.9 3740.5 1904.5 3744.9 1906.4 3749.2C1908.5 3754.1 1910.2 3759.2 1912.3 3764.1C1913.9 3767.6 1914.9 3771.5 1917.3 3774.7C1918.9 3776.9 1920.7 3779.4 1923.2 3780.6C1925.3 3781.5 1927.9 3781.9 1930.1 3781.4C1932.3 3781 1934.3 3779.7 1936.1 3778.5C1938.4 3776.9 1939.9 3774.4 1942 3772.5C1944.5 3770.4 1946.8 3767.6 1949.9 3766.6C1952.5 3765.8 1955.3 3765.6 1957.9 3766.2C1961 3766.9 1963.4 3769.4 1965.8 3771.5C1969.1 3774.4 1971.3 3778.4 1973.7 3782.1C1976.9 3787.1 1979 3792.7 1981.6 3798C1983.6 3801.9 1985.1 3806 1987.6 3809.6C1989.3 3812.3 1990.8 3815.4 1993.5 3817C1995.8 3818.5 1998.7 3819.3 2001.4 3819.2C2004.3 3819 2006.7 3817 2009.3 3816C2012 3814.9 2014.4 3812.8 2017.3 3812.8C2020.1 3812.8 2022.6 3814.7 2025.2 3816C2028.7 3817.7 2031.8 3820.2 2035.1 3822.3"/>
<path stroke="#000" stroke-width="7.9" d="M592.5 3200.8C593.3 3188.9 594.3 3177 595 3165C596 3148.3 596.8 3131.7 597.5 3115C598.5 3090 599.1 3065 599.7 3040C600.5 3006.7 601 2973.3 601.3 2940C601.8 2900.7 601.7 2861.3 601.8 2822C602.3 2861.3 602.3 2904.4 603.3 2940C604 2962.2 604.9 2984.4 605.8 3006.7C606.6 3026.1 607.3 3047.2 608.3 3065C609 3076.1 609.8 3093 610.5 3098.3C610.9 3101.7 611.5 3105 612 3108.3C613.3 3102.2 614.8 3096.2 615.8 3090C617.5 3080.2 618.1 3067.8 619.2 3056.7C620.3 3045.6 621.2 3034.4 622.5 3023.3C623.5 3015 624.6 3006.6 625.8 2998.3C627.1 2990 628.1 2977.9 630 2973.3C631.2 2970.5 632.8 2967.8 634.2 2965C635.6 2976.1 637.1 2987.2 638.3 2998.3C639.6 3009.4 639.8 3020.7 641.7 3031.7C643 3039.5 644.3 3052.4 646.7 3055C648.1 3056.6 649.5 3058.9 651.7 3059.2C655.1 3059.7 655.2 3052 656.7 3048.3C658.8 3042.9 660 3037.2 661.7 3031.7C662.8 3027.8 662.5 3022.9 665 3020C666.5 3018.2 669.1 3017.5 670.8 3015.8C673.5 3013.1 672.8 2995.6 675 2990C676.4 2986.5 678.3 2983.3 680 2980C681.4 2994.4 682.9 3010 684.2 3023.3C685 3031.7 685 3040.1 686.7 3048.3C687.9 3054.5 689.4 3062.8 691.7 3066.7C693.1 3069.1 694.2 3072.4 696.7 3073.3C698.2 3073.9 700.1 3073.9 701.7 3073.3C704.2 3072.5 705.1 3066.7 706.7 3063.3C708.5 3059.5 709.7 3053.7 711.7 3051.7C712.9 3050.4 714.1 3048.4 715.8 3048.3C718.5 3048.2 718.6 3052.8 720 3055C721.7 3057.8 723.4 3060.5 725 3063.3C726.8 3066.6 728.6 3069.9 730 3073.3C732.2 3078.7 733.1 3084.5 735 3090C736.5 3094.5 737.9 3099.1 740 3103.3C741.5 3106.2 742.6 3110.2 745 3111.7C746.5 3112.6 748.3 3113.5 750 3113.3C752.8 3113 753.6 3107.9 755 3105C757.2 3100.3 758 3095.1 759.2 3090C760.6 3084 761.4 3077.8 762.5 3071.7C764.2 3081.1 766.3 3096.8 767.5 3100C768.3 3102 769.2 3103.9 770 3105.8L773.3 3078.3C774.7 3086.7 776 3097.9 777.5 3103.3C778.5 3106.7 778.8 3112.3 780.8 3113.3C782.1 3114 783.6 3114.2 785 3114.2C787.3 3114.2 788 3100.3 789.2 3093.3C790.9 3082.3 791.4 3071.1 792.5 3060L798.3 3060C798.9 3071.1 797.9 3086.9 800 3093.3C801.3 3097.4 802.7 3102 805 3105C806.4 3106.9 807.9 3109 810 3110C813.4 3111.6 820.9 3102.6 825 3102.5C827.5 3102.4 830 3103.9 832.5 3103.8C835.1 3103.6 837.4 3100.9 840 3101.2C843.2 3101.7 845 3105.9 847.5 3107.5C849.1 3108.5 850.6 3109.8 852.5 3110C854.2 3110.2 856 3109.6 857.5 3108.8C859.9 3107.4 860.5 3100.9 862 3097L863.8 3107.5C865.8 3107.5 867.9 3107.5 870 3107.5C873.3 3107.6 876.7 3107.4 880 3108C882.6 3108.4 885.1 3109.1 887.5 3110C890.1 3111 892.3 3112.9 895 3113.8C897.4 3114.5 900 3114.9 902.5 3115C905.9 3115.1 909.2 3113.1 912.5 3113.8C915.2 3114.3 917.6 3116.1 920 3117.5C922.6 3119 924.9 3121 927.5 3122.5C929.9 3123.9 932.4 3125.3 935 3126.2C937.4 3127.1 940 3127.6 942.5 3128C945 3128.4 947.5 3128.2 950 3128.8C953.5 3129.5 956.9 3130.8 960 3132.5C963.7 3134.5 966.7 3137.5 970 3140C973.3 3142.5 976.6 3145.1 980 3147.5C983.2 3149.7 986.6 3151.8 990 3153.8C993.3 3155.6 996.7 3157.1 1000 3158.8C1003.3 3160.4 1006.8 3161.8 1010 3163.8C1013.6 3165.9 1016.9 3168.5 1020 3171.2C1023.7 3174.6 1026.6 3178.9 1030 3182.5C1033.2 3185.9 1036.4 3189.5 1040 3192.5C1045.8 3197.4 1053.1 3201.8 1060 3205C1064.3 3207 1069.1 3207.8 1073.3 3210C1076.9 3211.9 1080 3214.4 1083.3 3216.7C1086.7 3218.9 1089.6 3221.9 1093.3 3223.3C1096.5 3224.5 1100 3224.9 1103.3 3225C1106.7 3225.1 1110 3224 1113.3 3224C1116.7 3224 1120.1 3224.3 1123.3 3225C1126.8 3225.7 1130.1 3227.1 1133.3 3228.3C1136.7 3229.6 1139.8 3231.8 1143.3 3232.7C1146.6 3233.4 1150 3233.2 1153.3 3233.3C1156.7 3233.4 1160 3232.8 1163.3 3233.3C1166.8 3233.9 1170.2 3235 1173.3 3236.7C1177.2 3238.7 1179.8 3242.6 1183.3 3245C1186.5 3247.2 1189.8 3249.2 1193.3 3250.7C1196.5 3252 1200.1 3252.1 1203.3 3253.3C1206.8 3254.6 1210.3 3256.2 1213.3 3258.3C1217.2 3261 1220 3265 1223.3 3268.3C1226.7 3271.7 1229.8 3275.2 1233.3 3278.3C1236.5 3281.3 1239.9 3284.1 1243.3 3286.7C1246.5 3289.1 1250.1 3290.9 1253.3 3293.3C1256.8 3295.9 1260.2 3298.6 1263.3 3301.7C1267 3305.2 1269.7 3309.8 1273.3 3313.3C1276.4 3316.4 1279.6 3319.4 1283.3 3321.7C1286.5 3323.5 1289.9 3324.7 1293.3 3326C1296.6 3327.3 1300 3328.1 1303.3 3329.3C1306.7 3330.6 1309.9 3332.3 1313.3 3333.3C1316.6 3334.4 1319.9 3335.3 1323.3 3335.7C1326.7 3336 1330 3335.3 1333.3 3335.3C1336.7 3335.4 1340.1 3335.3 1343.3 3336C1346.8 3336.8 1350.1 3338.5 1353.3 3340C1356.7 3341.5 1360 3343.4 1363.3 3345C1366.6 3346.5 1369.9 3348 1373.3 3349.3C1376.6 3350.6 1380.3 3351 1383.3 3352.7C1387.3 3354.8 1390.2 3358.5 1393.3 3361.7C1396.9 3365.3 1399.7 3369.8 1403.3 3373.3C1406.4 3376.4 1410.1 3378.7 1413.3 3381.7C1416.8 3384.8 1420.1 3388.2 1423.3 3391.7C1426.8 3395.4 1429.8 3399.6 1433.3 3403.3C1436.5 3406.8 1439.7 3410.4 1443.3 3413.3C1446.5 3415.8 1449.9 3418 1453.3 3420C1456.6 3421.9 1459.9 3423.6 1463.3 3425C1466.6 3426.3 1469.9 3427.7 1473.3 3428.3C1478.8 3429.4 1486.7 3426.9 1493.3 3427.3C1497.8 3427.6 1502.3 3428.4 1506.7 3429.3C1511.2 3430.3 1515.7 3431.6 1520 3433.3C1524.6 3435.2 1529.1 3437.4 1533.3 3440C1538.1 3442.9 1542.5 3446.3 1546.7 3450C1551.6 3454.5 1555.6 3460 1560 3465C1564.4 3470 1568.5 3475.4 1573.3 3480C1576.5 3483 1579.8 3485.9 1583.3 3488.3C1586.5 3490.5 1589.8 3492.4 1593.3 3494C1597.6 3495.9 1602.1 3497.2 1606.7 3498.3C1611 3499.4 1615.5 3500.1 1620 3500.7C1624.4 3501.2 1629 3500.7 1633.3 3501.7C1638 3502.7 1642.3 3504.8 1646.7 3506.7C1651.2 3508.6 1655.8 3510.6 1660 3513.3C1664.9 3516.6 1669.2 3520.8 1673.3 3525C1676.9 3528.7 1679.8 3532.9 1683.3 3536.7C1686.5 3540.1 1689.7 3543.7 1693.3 3546.7C1696.5 3549.2 1699.8 3551.5 1703.3 3553.3C1706.5 3555 1709.9 3556.2 1713.3 3557.3C1717.7 3558.8 1722.2 3559.7 1726.7 3560.7C1731.1 3561.7 1735.6 3562.1 1740 3563.3C1743.4 3564.3 1746.9 3564.9 1750 3566.7C1754.1 3569 1756.8 3573.2 1760 3576.7C1763.5 3580.4 1766.5 3584.6 1770 3588.3C1773.2 3591.8 1776.5 3595.2 1780 3598.3C1783.2 3601.3 1786.5 3604.1 1790 3606.7C1793.2 3609.1 1796.6 3611.2 1800 3613.3C1803.3 3615.4 1806.4 3617.9 1810 3619.3C1813.2 3620.6 1816.6 3621 1820 3621.7C1824.4 3622.5 1829 3622.3 1833.3 3623.3C1837.9 3624.5 1842.5 3626.1 1846.7 3628.3C1850.2 3630.2 1853.6 3632.4 1856.7 3635C1860.6 3638.3 1863.5 3642.7 1866.7 3646.7C1870.1 3651 1873 3655.8 1876.7 3660C1879.8 3663.5 1882.9 3667.1 1886.7 3670C1889.8 3672.4 1893.1 3674.5 1896.7 3676C1902.4 3678.4 1912.4 3678.7 1916.9 3679.3C1919.8 3679.7 1922.7 3679.7 1925.4 3680.4C1928.4 3681.1 1931.2 3682.1 1933.9 3683.6C1937 3685.2 1939.8 3687.5 1942.4 3689.9C1945.5 3692.8 1948.1 3696.2 1950.8 3699.4C1953.8 3702.9 1956.5 3706.5 1959.3 3710C1962.1 3713.6 1964.6 3717.6 1967.8 3720.6C1969.8 3722.6 1971.8 3724.6 1974.2 3725.9C1976.1 3727.1 1978.3 3728 1980.5 3728.5C1983.3 3729.1 1986.2 3728.7 1989 3728.5C1991.8 3728.2 1994.6 3727.4 1997.5 3727C2000.3 3726.6 2003.1 3725.8 2005.9 3725.9C2008.8 3726.1 2011.8 3726.9 2014.4 3728.1C2017.6 3729.5 2020.3 3732 2022.9 3734.4C2026 3737.3 2028.5 3740.8 2031.4 3743.9C2034.2 3747.1 2036.9 3750.4 2039.8 3753.5C2042.6 3756.4 2045.2 3759.5 2048.3 3761.9C2050.9 3764 2053.7 3766 2056.8 3767.2C2059.5 3768.4 2062.4 3769.1 2065.3 3769.4C2068.1 3769.6 2070.9 3768.9 2073.7 3768.7C2076.6 3768.6 2079.4 3768 2082.2 3768.3C2085.1 3768.6 2088 3769.2 2090.7 3770.4C2093.9 3771.9 2096.6 3774.4 2099.2 3776.8C2102.4 3779.9 2104.8 3783.8 2107.6 3787.4C2110.5 3790.9 2112.8 3794.9 2116.1 3798C2118.7 3800.4 2121.5 3802.7 2124.6 3804.3C2127.2 3805.7 2130.1 3806.9 2133.1 3807.5C2135.8 3808.1 2138.7 3808 2141.5 3808.1C2144.3 3808.2 2147.2 3807.7 2150 3808.1C2152.9 3808.6 2155.8 3809.4 2158.5 3810.7C2161.7 3812.2 2164.2 3814.9 2166.9 3817C2170.5 3819.8 2174 3822.7 2177.5 3825.5"/>
<path stroke="#000" stroke-width="6.9" stroke-dasharray="14 19" d="M587.5 3010.8C590.6 3013.3 592.7 3018.1 596.7 3018.3C599.7 3018.5 602.3 3016.3 605 3015C607.9 3013.6 610.1 3010.5 613.3 3010C616.7 3009.5 620 3011.6 623.3 3012.5C627.2 3013.5 631.1 3014.9 635 3015.8C638.9 3016.8 642.8 3017.4 646.7 3018.3C650.6 3019.3 654.5 3020.3 658.3 3021.7C662.6 3023.3 666.8 3025.3 670.8 3027.5C674 3029.3 677.1 3031.2 680 3033.3C683.5 3035.9 686.7 3038.9 690 3041.7C693.6 3044.7 697.1 3047.9 700.8 3050.8C704.9 3054 709 3057.2 713.3 3060C717.1 3062.4 721 3064.7 725 3066.7C728.8 3068.5 732.5 3071.1 736.7 3071.7C742.5 3072.5 747.9 3067.4 753.8 3067.5C761.3 3067.7 767.4 3075.1 775 3075.5C783.7 3076 791.6 3070.4 800 3068C807.5 3065.9 814.7 3062.4 822.5 3062C831.8 3061.5 840.8 3065.9 850 3067.5C861.2 3069.4 872.7 3069.4 883.8 3072C894.4 3074.5 904.8 3078.4 915 3082.5C924.4 3086.2 933.6 3090.3 942.5 3095C951.5 3099.7 960.4 3104.9 968.8 3110.8C977.1 3116.6 984.6 3123.5 992.5 3130C1000 3136.2 1007.7 3142.3 1015 3148.8C1022.2 3155.1 1028.8 3162.2 1036.2 3168.2C1042.8 3173.6 1049.6 3178.7 1056.7 3183.3C1062.1 3186.9 1067.5 3190.5 1073.3 3193.3C1078.7 3196 1084.3 3198.2 1090 3200"/>
<path stroke="#000" stroke-width="6.9" stroke-dasharray="15 15" d="M1090 3200C1095.4 3201.7 1101 3203 1106.7 3204C1112.2 3205 1117.8 3205.3 1123.3 3206C1128.9 3206.7 1134.4 3207.6 1140 3208.3C1145.6 3209.1 1151.2 3209.6 1156.7 3210.7C1162.3 3211.8 1167.9 3213.2 1173.3 3215C1179 3216.9 1184.5 3219.2 1190 3221.7C1195.7 3224.2 1201.4 3226.7 1206.7 3230C1211.4 3232.9 1215.7 3236.5 1220 3240C1224.6 3243.7 1228.9 3247.8 1233.3 3251.7C1237.8 3255.6 1242.3 3259.3 1246.7 3263.3C1251.3 3267.6 1255.4 3272.4 1260 3276.7C1264.3 3280.7 1268.7 3284.6 1273.3 3288.3C1277.7 3291.8 1282 3295.3 1286.7 3298.3C1291 3301.1 1295.3 3303.9 1300 3306C1304.3 3307.9 1308.8 3309.4 1313.3 3310.7C1317.7 3311.9 1322.2 3312.4 1326.7 3313.3C1332.2 3314.5 1337.8 3315.9 1343.3 3317.3C1348.9 3318.7 1354.5 3320 1360 3321.7C1364.5 3323 1369 3324.2 1373.3 3326C1378 3328 1382.4 3330.6 1386.7 3333.3C1391.3 3336.3 1395.7 3339.8 1400 3343.3C1404.6 3347 1409.1 3350.9 1413.3 3355C1418.1 3359.7 1422.2 3365 1426.7 3370C1431.1 3375 1435.2 3380.3 1440 3385C1444.2 3389.1 1448.9 3392.8 1453.3 3396.7C1457.8 3400.6 1462.1 3404.6 1466.7 3408.3C1471 3411.8 1474.9 3416.7 1480 3418.3C1483.2 3419.3 1486.7 3419 1490 3419.3"/>
<path stroke="#000" stroke-width="6.9" stroke-dasharray="13 10" d="M1490 3419.3C1495.3 3419.9 1501.2 3420.6 1506.7 3421.7C1512.3 3422.8 1517.9 3424.1 1523.3 3426C1530.3 3428.4 1536.9 3431.5 1543.3 3435C1550.4 3438.9 1556.9 3443.6 1563.3 3448.3C1570.3 3453.5 1576.4 3459.8 1583.3 3465C1589.8 3469.8 1596.5 3474.1 1603.3 3478.3C1609.9 3482.4 1616.3 3486.9 1623.3 3490C1629.7 3492.9 1636.9 3493.8 1643.3 3496.7C1650.4 3499.8 1656.9 3504.1 1663.3 3508.3C1670.3 3512.9 1676.4 3518.7 1683.3 3523.3C1688.7 3526.9 1694.3 3530.3 1700 3533.3C1707.5 3537.3 1715.6 3540 1723.3 3543.3C1731.1 3546.7 1739.2 3549.4 1746.7 3553.3C1752.4 3556.3 1758.2 3559.4 1763.3 3563.3C1769.6 3568.1 1774.4 3574.4 1780 3580C1785.6 3585.6 1789.8 3592.9 1796.7 3596.7C1802.7 3599.9 1810 3600.1 1816.7 3601.7C1824.4 3603.5 1832.7 3603.4 1840 3606.7"/>
<path stroke="#000" stroke-width="6.9" stroke-dasharray="8 6.5" d="M1840 3606.7C1847.6 3610.1 1854.2 3615.7 1860 3621.7C1865.3 3627.1 1868.7 3634 1873.3 3640C1877.7 3645.7 1881.9 3651.4 1886.7 3656.7C1890.9 3661.3 1895.4 3669.5 1900 3669.8C1902.9 3670 1905.7 3668.5 1908.5 3667.7C1911.3 3666.9 1914 3665.4 1916.9 3664.9C1919.7 3664.5 1922.6 3664.6 1925.4 3664.9C1928.3 3665.3 1931.2 3666 1933.9 3667C1936.9 3668.2 1939.8 3670 1942.4 3671.9C1945.6 3674.3 1948.2 3677.4 1950.8 3680.4C1953.9 3683.7 1956.7 3687.3 1959.3 3691C1962.4 3695.4 1964.7 3700.4 1967.8 3704.7C1970.4 3708.4 1972.6 3712.6 1976.3 3715.3C1978.8 3717.2 1981.6 3719.1 1984.7 3719.6C1987.6 3720 1990.5 3719.2 1993.2 3718.5C1996.2 3717.7 1998.7 3715.7 2001.7 3714.9C2004.4 3714.2 2007.3 3713.4 2010.2 3713.6C2013.1 3713.9 2016 3715 2018.6 3716.4C2022 3718.2 2024.5 3721.1 2027.1 3723.8C2030.3 3727.1 2033 3730.7 2035.6 3734.4C2037.9 3737.8 2040 3741.4 2041.9 3745C2044.2 3749.1 2046.4 3753.4 2048.3 3757.7C2049.8 3761.2 2050.7 3765 2052.5 3768.3C2053.8 3770.5 2054.9 3773 2056.8 3774.7C2058.6 3776.2 2060.8 3777.7 2063.1 3777.8C2065.4 3778 2067.4 3776.6 2069.5 3775.7C2072.5 3774.4 2075.1 3772 2078 3770.4C2080.7 3768.9 2083.4 3767 2086.4 3766.2C2089.2 3765.5 2092.1 3765.2 2094.9 3765.8C2098.1 3766.4 2100.9 3768.4 2103.4 3770.4C2106.9 3773.2 2109.3 3777.3 2111.9 3781C2115.1 3785.7 2117.5 3790.9 2120.3 3795.8C2122.4 3799.4 2124.3 3803.1 2126.7 3806.4C2128.6 3809.1 2130.3 3812.2 2133.1 3813.9C2135.6 3815.3 2138.6 3816 2141.5 3816C2144.4 3816 2147.2 3814.6 2150 3813.9C2152.8 3813.1 2155.6 3811.6 2158.5 3811.7C2161.5 3811.9 2164.2 3813.6 2166.9 3814.9C2170.7 3816.7 2174 3819.2 2177.5 3821.3"/>
</g>
<g stroke="#000" fill="none" stroke-linecap="butt">
<rect x="330" y="40" width="1843" height="3847" stroke-width="4"/>
<path d="M330 1322H2173 M330 2597H2173" stroke-width="4"/>
<path d="M330 1316.4H351 M2173 1316.4H2152" stroke-width="2.4"/>
<path d="M330 1307.6H351 M2173 1307.6H2152" stroke-width="2.4"/>
<path d="M330 1300.1H351 M2173 1300.1H2152" stroke-width="2.4"/>
<path d="M330 1293.6H351 M2173 1293.6H2152" stroke-width="2.4"/>
<path d="M330 1287.9H372 M2173 1287.9H2131" stroke-width="2.4"/>
<path d="M330 1165.4H351 M2173 1165.4H2152" stroke-width="2.4"/>
<path d="M330 1133.4H351 M2173 1133.4H2152" stroke-width="2.4"/>
<path d="M330 1114.1H351 M2173 1114.1H2152" stroke-width="2.4"/>
<path d="M330 1100.3H351 M2173 1100.3H2152" stroke-width="2.4"/>
<path d="M330 1089.5H351 M2173 1089.5H2152" stroke-width="2.4"/>
<path d="M330 1080.7H351 M2173 1080.7H2152" stroke-width="2.4"/>
<path d="M330 1073.2H351 M2173 1073.2H2152" stroke-width="2.4"/>
<path d="M330 1066.7H351 M2173 1066.7H2152" stroke-width="2.4"/>
<path d="M330 1061H372 M2173 1061H2131" stroke-width="2.4"/>
<path d="M330 938.5H351 M2173 938.5H2152" stroke-width="2.4"/>
<path d="M330 906.5H351 M2173 906.5H2152" stroke-width="2.4"/>
<path d="M330 887.2H351 M2173 887.2H2152" stroke-width="2.4"/>
<path d="M330 873.4H351 M2173 873.4H2152" stroke-width="2.4"/>
<path d="M330 862.7H351 M2173 862.7H2152" stroke-width="2.4"/>
<path d="M330 853.8H351 M2173 853.8H2152" stroke-width="2.4"/>
<path d="M330 846.3H351 M2173 846.3H2152" stroke-width="2.4"/>
<path d="M330 839.8H351 M2173 839.8H2152" stroke-width="2.4"/>
<path d="M330 834.1H372 M2173 834.1H2131" stroke-width="2.4"/>
<path d="M330 711.7H351 M2173 711.7H2152" stroke-width="2.4"/>
<path d="M330 679.6H351 M2173 679.6H2152" stroke-width="2.4"/>
<path d="M330 660.4H351 M2173 660.4H2152" stroke-width="2.4"/>
<path d="M330 646.5H351 M2173 646.5H2152" stroke-width="2.4"/>
<path d="M330 635.8H351 M2173 635.8H2152" stroke-width="2.4"/>
<path d="M330 626.9H351 M2173 626.9H2152" stroke-width="2.4"/>
<path d="M330 619.4H351 M2173 619.4H2152" stroke-width="2.4"/>
<path d="M330 612.9H351 M2173 612.9H2152" stroke-width="2.4"/>
<path d="M330 607.2H372 M2173 607.2H2131" stroke-width="2.4"/>
<path d="M330 484.8H351 M2173 484.8H2152" stroke-width="2.4"/>
<path d="M330 452.7H351 M2173 452.7H2152" stroke-width="2.4"/>
<path d="M330 433.5H351 M2173 433.5H2152" stroke-width="2.4"/>
<path d="M330 419.7H351 M2173 419.7H2152" stroke-width="2.4"/>
<path d="M330 408.9H351 M2173 408.9H2152" stroke-width="2.4"/>
<path d="M330 400.1H351 M2173 400.1H2152" stroke-width="2.4"/>
<path d="M330 392.6H351 M2173 392.6H2152" stroke-width="2.4"/>
<path d="M330 386.1H351 M2173 386.1H2152" stroke-width="2.4"/>
<path d="M330 380.3H372 M2173 380.3H2131" stroke-width="2.4"/>
<path d="M330 257.9H351 M2173 257.9H2152" stroke-width="2.4"/>
<path d="M330 225.8H351 M2173 225.8H2152" stroke-width="2.4"/>
<path d="M330 206.6H351 M2173 206.6H2152" stroke-width="2.4"/>
<path d="M330 192.8H351 M2173 192.8H2152" stroke-width="2.4"/>
<path d="M330 182H351 M2173 182H2152" stroke-width="2.4"/>
<path d="M330 173.2H351 M2173 173.2H2152" stroke-width="2.4"/>
<path d="M330 165.7H351 M2173 165.7H2152" stroke-width="2.4"/>
<path d="M330 159.2H351 M2173 159.2H2152" stroke-width="2.4"/>
<path d="M330 153.4H372 M2173 153.4H2131" stroke-width="2.4"/>
<path d="M330 2591.4H351 M2173 2591.4H2152" stroke-width="2.4"/>
<path d="M330 2582.7H351 M2173 2582.7H2152" stroke-width="2.4"/>
<path d="M330 2575.2H351 M2173 2575.2H2152" stroke-width="2.4"/>
<path d="M330 2568.7H351 M2173 2568.7H2152" stroke-width="2.4"/>
<path d="M330 2563H372 M2173 2563H2131" stroke-width="2.4"/>
<path d="M330 2441.3H351 M2173 2441.3H2152" stroke-width="2.4"/>
<path d="M330 2409.4H351 M2173 2409.4H2152" stroke-width="2.4"/>
<path d="M330 2390.3H351 M2173 2390.3H2152" stroke-width="2.4"/>
<path d="M330 2376.5H351 M2173 2376.5H2152" stroke-width="2.4"/>
<path d="M330 2365.8H351 M2173 2365.8H2152" stroke-width="2.4"/>
<path d="M330 2357H351 M2173 2357H2152" stroke-width="2.4"/>
<path d="M330 2349.6H351 M2173 2349.6H2152" stroke-width="2.4"/>
<path d="M330 2343.1H351 M2173 2343.1H2152" stroke-width="2.4"/>
<path d="M330 2337.4H372 M2173 2337.4H2131" stroke-width="2.4"/>
<path d="M330 2215.6H351 M2173 2215.6H2152" stroke-width="2.4"/>
<path d="M330 2183.8H351 M2173 2183.8H2152" stroke-width="2.4"/>
<path d="M330 2164.6H351 M2173 2164.6H2152" stroke-width="2.4"/>
<path d="M330 2150.9H351 M2173 2150.9H2152" stroke-width="2.4"/>
<path d="M330 2140.2H351 M2173 2140.2H2152" stroke-width="2.4"/>
<path d="M330 2131.4H351 M2173 2131.4H2152" stroke-width="2.4"/>
<path d="M330 2123.9H351 M2173 2123.9H2152" stroke-width="2.4"/>
<path d="M330 2117.5H351 M2173 2117.5H2152" stroke-width="2.4"/>
<path d="M330 2111.8H372 M2173 2111.8H2131" stroke-width="2.4"/>
<path d="M330 1990H351 M2173 1990H2152" stroke-width="2.4"/>
<path d="M330 1958.1H351 M2173 1958.1H2152" stroke-width="2.4"/>
<path d="M330 1939H351 M2173 1939H2152" stroke-width="2.4"/>
<path d="M330 1925.2H351 M2173 1925.2H2152" stroke-width="2.4"/>
<path d="M330 1914.5H351 M2173 1914.5H2152" stroke-width="2.4"/>
<path d="M330 1905.7H351 M2173 1905.7H2152" stroke-width="2.4"/>
<path d="M330 1898.3H351 M2173 1898.3H2152" stroke-width="2.4"/>
<path d="M330 1891.8H351 M2173 1891.8H2152" stroke-width="2.4"/>
<path d="M330 1886.1H372 M2173 1886.1H2131" stroke-width="2.4"/>
<path d="M330 1764.4H351 M2173 1764.4H2152" stroke-width="2.4"/>
<path d="M330 1732.5H351 M2173 1732.5H2152" stroke-width="2.4"/>
<path d="M330 1713.3H351 M2173 1713.3H2152" stroke-width="2.4"/>
<path d="M330 1699.6H351 M2173 1699.6H2152" stroke-width="2.4"/>
<path d="M330 1688.9H351 M2173 1688.9H2152" stroke-width="2.4"/>
<path d="M330 1680.1H351 M2173 1680.1H2152" stroke-width="2.4"/>
<path d="M330 1672.6H351 M2173 1672.6H2152" stroke-width="2.4"/>
<path d="M330 1666.2H351 M2173 1666.2H2152" stroke-width="2.4"/>
<path d="M330 1660.5H372 M2173 1660.5H2131" stroke-width="2.4"/>
<path d="M330 1538.7H351 M2173 1538.7H2152" stroke-width="2.4"/>
<path d="M330 1506.8H351 M2173 1506.8H2152" stroke-width="2.4"/>
<path d="M330 1487.7H351 M2173 1487.7H2152" stroke-width="2.4"/>
<path d="M330 1473.9H351 M2173 1473.9H2152" stroke-width="2.4"/>
<path d="M330 1463.2H351 M2173 1463.2H2152" stroke-width="2.4"/>
<path d="M330 1454.4H351 M2173 1454.4H2152" stroke-width="2.4"/>
<path d="M330 1447H351 M2173 1447H2152" stroke-width="2.4"/>
<path d="M330 1440.5H351 M2173 1440.5H2152" stroke-width="2.4"/>
<path d="M330 1434.8H372 M2173 1434.8H2131" stroke-width="2.4"/>
<path d="M330 3881.4H351 M2173 3881.4H2152" stroke-width="2.4"/>
<path d="M330 3872.5H351 M2173 3872.5H2152" stroke-width="2.4"/>
<path d="M330 3865H351 M2173 3865H2152" stroke-width="2.4"/>
<path d="M330 3858.4H351 M2173 3858.4H2152" stroke-width="2.4"/>
<path d="M330 3852.6H372 M2173 3852.6H2131" stroke-width="2.4"/>
<path d="M330 3729.5H351 M2173 3729.5H2152" stroke-width="2.4"/>
<path d="M330 3697.2H351 M2173 3697.2H2152" stroke-width="2.4"/>
<path d="M330 3677.8H351 M2173 3677.8H2152" stroke-width="2.4"/>
<path d="M330 3663.9H351 M2173 3663.9H2152" stroke-width="2.4"/>
<path d="M330 3653.1H351 M2173 3653.1H2152" stroke-width="2.4"/>
<path d="M330 3644.2H351 M2173 3644.2H2152" stroke-width="2.4"/>
<path d="M330 3636.7H351 M2173 3636.7H2152" stroke-width="2.4"/>
<path d="M330 3630.1H351 M2173 3630.1H2152" stroke-width="2.4"/>
<path d="M330 3624.3H372 M2173 3624.3H2131" stroke-width="2.4"/>
<path d="M330 3501.2H351 M2173 3501.2H2152" stroke-width="2.4"/>
<path d="M330 3468.9H351 M2173 3468.9H2152" stroke-width="2.4"/>
<path d="M330 3449.5H351 M2173 3449.5H2152" stroke-width="2.4"/>
<path d="M330 3435.6H351 M2173 3435.6H2152" stroke-width="2.4"/>
<path d="M330 3424.8H351 M2173 3424.8H2152" stroke-width="2.4"/>
<path d="M330 3415.9H351 M2173 3415.9H2152" stroke-width="2.4"/>
<path d="M330 3408.4H351 M2173 3408.4H2152" stroke-width="2.4"/>
<path d="M330 3401.8H351 M2173 3401.8H2152" stroke-width="2.4"/>
<path d="M330 3396H372 M2173 3396H2131" stroke-width="2.4"/>
<path d="M330 3272.9H351 M2173 3272.9H2152" stroke-width="2.4"/>
<path d="M330 3240.6H351 M2173 3240.6H2152" stroke-width="2.4"/>
<path d="M330 3221.2H351 M2173 3221.2H2152" stroke-width="2.4"/>
<path d="M330 3207.3H351 M2173 3207.3H2152" stroke-width="2.4"/>
<path d="M330 3196.5H351 M2173 3196.5H2152" stroke-width="2.4"/>
<path d="M330 3187.6H351 M2173 3187.6H2152" stroke-width="2.4"/>
<path d="M330 3180.1H351 M2173 3180.1H2152" stroke-width="2.4"/>
<path d="M330 3173.5H351 M2173 3173.5H2152" stroke-width="2.4"/>
<path d="M330 3167.7H372 M2173 3167.7H2131" stroke-width="2.4"/>
<path d="M330 3044.6H351 M2173 3044.6H2152" stroke-width="2.4"/>
<path d="M330 3012.3H351 M2173 3012.3H2152" stroke-width="2.4"/>
<path d="M330 2992.9H351 M2173 2992.9H2152" stroke-width="2.4"/>
<path d="M330 2979H351 M2173 2979H2152" stroke-width="2.4"/>
<path d="M330 2968.2H351 M2173 2968.2H2152" stroke-width="2.4"/>
<path d="M330 2959.3H351 M2173 2959.3H2152" stroke-width="2.4"/>
<path d="M330 2951.8H351 M2173 2951.8H2152" stroke-width="2.4"/>
<path d="M330 2945.2H351 M2173 2945.2H2152" stroke-width="2.4"/>
<path d="M330 2939.4H372 M2173 2939.4H2131" stroke-width="2.4"/>
<path d="M330 2816.3H351 M2173 2816.3H2152" stroke-width="2.4"/>
<path d="M330 2784H351 M2173 2784H2152" stroke-width="2.4"/>
<path d="M330 2764.6H351 M2173 2764.6H2152" stroke-width="2.4"/>
<path d="M330 2750.7H351 M2173 2750.7H2152" stroke-width="2.4"/>
<path d="M330 2739.9H351 M2173 2739.9H2152" stroke-width="2.4"/>
<path d="M330 2731H351 M2173 2731H2152" stroke-width="2.4"/>
<path d="M330 2723.5H351 M2173 2723.5H2152" stroke-width="2.4"/>
<path d="M330 2716.9H351 M2173 2716.9H2152" stroke-width="2.4"/>
<path d="M330 2711.1H372 M2173 2711.1H2131" stroke-width="2.4"/>
<path d="M488.5 40V58" stroke-width="3"/>
<path d="M488.5 1304V1340" stroke-width="3"/>
<path d="M488.5 2579V2615" stroke-width="3"/>
<path d="M488.5 3887V3869" stroke-width="3"/>
<path d="M722.4 40V58" stroke-width="3"/>
<path d="M722.4 1304V1340" stroke-width="3"/>
<path d="M722.4 2579V2615" stroke-width="3"/>
<path d="M722.4 3887V3869" stroke-width="3"/>
<path d="M878 40V58" stroke-width="3"/>
<path d="M878 1304V1340" stroke-width="3"/>
<path d="M878 2579V2615" stroke-width="3"/>
<path d="M878 3887V3869" stroke-width="3"/>
<path d="M994.7 40V58" stroke-width="3"/>
<path d="M994.7 1304V1340" stroke-width="3"/>
<path d="M994.7 2579V2615" stroke-width="3"/>
<path d="M994.7 3887V3869" stroke-width="3"/>
<path d="M1573.3 40V58" stroke-width="3"/>
<path d="M1573.3 1304V1340" stroke-width="3"/>
<path d="M1573.3 2579V2615" stroke-width="3"/>
<path d="M1573.3 3887V3869" stroke-width="3"/>
<path d="M1807.2 40V58" stroke-width="3"/>
<path d="M1807.2 1304V1340" stroke-width="3"/>
<path d="M1807.2 2579V2615" stroke-width="3"/>
<path d="M1807.2 3887V3869" stroke-width="3"/>
<path d="M1962.7 40V58" stroke-width="3"/>
<path d="M1962.7 1304V1340" stroke-width="3"/>
<path d="M1962.7 2579V2615" stroke-width="3"/>
<path d="M1962.7 3887V3869" stroke-width="3"/>
<path d="M2079.5 40V58" stroke-width="3"/>
<path d="M2079.5 1304V1340" stroke-width="3"/>
<path d="M2079.5 2579V2615" stroke-width="3"/>
<path d="M2079.5 3887V3869" stroke-width="3"/>
<path d="M1088.2 40V76" stroke-width="3"/>
<path d="M1088.2 1286V1358" stroke-width="3"/>
<path d="M1088.2 2561V2633" stroke-width="3"/>
<path d="M1088.2 3887V3851" stroke-width="3"/>
</g>
<g fill="#000">
<text transform="translate(282.5 148.9) scale(1.14 1.0)" font-family="'Liberation Sans',Arial,Helvetica,sans-serif" font-size="56" font-weight="normal" text-anchor="end">4</text>
<text transform="translate(246.6 181.3) scale(1.14 1.0)" font-family="'Liberation Sans',Arial,Helvetica,sans-serif" font-size="69" font-weight="normal" text-anchor="end">10</text>
<text transform="translate(282.5 375.8) scale(1.14 1.0)" font-family="'Liberation Sans',Arial,Helvetica,sans-serif" font-size="56" font-weight="normal" text-anchor="end">2</text>
<text transform="translate(246.6 408.2) scale(1.14 1.0)" font-family="'Liberation Sans',Arial,Helvetica,sans-serif" font-size="69" font-weight="normal" text-anchor="end">10</text>
<text transform="translate(282.5 602.7) scale(1.14 1.0)" font-family="'Liberation Sans',Arial,Helvetica,sans-serif" font-size="56" font-weight="normal" text-anchor="end">0</text>
<text transform="translate(246.6 635.1) scale(1.14 1.0)" font-family="'Liberation Sans',Arial,Helvetica,sans-serif" font-size="69" font-weight="normal" text-anchor="end">10</text>
<text transform="translate(282.5 829.6) scale(1.14 1.0)" font-family="'Liberation Sans',Arial,Helvetica,sans-serif" font-size="56" font-weight="normal" text-anchor="end">2</text>
<text transform="translate(246.5 834.4) scale(1.14 1.0)" font-family="'Liberation Sans',Arial,Helvetica,sans-serif" font-size="54" font-weight="normal" text-anchor="end">−</text>
<text transform="translate(209.2 862) scale(1.14 1.0)" font-family="'Liberation Sans',Arial,Helvetica,sans-serif" font-size="69" font-weight="normal" text-anchor="end">10</text>
<text transform="translate(282.5 1056.5) scale(1.14 1.0)" font-family="'Liberation Sans',Arial,Helvetica,sans-serif" font-size="56" font-weight="normal" text-anchor="end">4</text>
<text transform="translate(246.5 1061.3) scale(1.14 1.0)" font-family="'Liberation Sans',Arial,Helvetica,sans-serif" font-size="54" font-weight="normal" text-anchor="end">−</text>
<text transform="translate(209.2 1088.9) scale(1.14 1.0)" font-family="'Liberation Sans',Arial,Helvetica,sans-serif" font-size="69" font-weight="normal" text-anchor="end">10</text>
<text transform="translate(282.5 1283.4) scale(1.14 1.0)" font-family="'Liberation Sans',Arial,Helvetica,sans-serif" font-size="56" font-weight="normal" text-anchor="end">6</text>
<text transform="translate(246.5 1288.2) scale(1.14 1.0)" font-family="'Liberation Sans',Arial,Helvetica,sans-serif" font-size="54" font-weight="normal" text-anchor="end">−</text>
<text transform="translate(209.2 1315.8) scale(1.14 1.0)" font-family="'Liberation Sans',Arial,Helvetica,sans-serif" font-size="69" font-weight="normal" text-anchor="end">10</text>
<text transform="translate(282.5 1430.3) scale(1.14 1.0)" font-family="'Liberation Sans',Arial,Helvetica,sans-serif" font-size="56" font-weight="normal" text-anchor="end">4</text>
<text transform="translate(246.6 1462.7) scale(1.14 1.0)" font-family="'Liberation Sans',Arial,Helvetica,sans-serif" font-size="69" font-weight="normal" text-anchor="end">10</text>
<text transform="translate(282.5 1656) scale(1.14 1.0)" font-family="'Liberation Sans',Arial,Helvetica,sans-serif" font-size="56" font-weight="normal" text-anchor="end">2</text>
<text transform="translate(246.6 1688.4) scale(1.14 1.0)" font-family="'Liberation Sans',Arial,Helvetica,sans-serif" font-size="69" font-weight="normal" text-anchor="end">10</text>
<text transform="translate(282.5 1881.6) scale(1.14 1.0)" font-family="'Liberation Sans',Arial,Helvetica,sans-serif" font-size="56" font-weight="normal" text-anchor="end">0</text>
<text transform="translate(246.6 1914) scale(1.14 1.0)" font-family="'Liberation Sans',Arial,Helvetica,sans-serif" font-size="69" font-weight="normal" text-anchor="end">10</text>
<text transform="translate(282.5 2107.3) scale(1.14 1.0)" font-family="'Liberation Sans',Arial,Helvetica,sans-serif" font-size="56" font-weight="normal" text-anchor="end">2</text>
<text transform="translate(246.5 2112.1) scale(1.14 1.0)" font-family="'Liberation Sans',Arial,Helvetica,sans-serif" font-size="54" font-weight="normal" text-anchor="end">−</text>
<text transform="translate(209.2 2139.7) scale(1.14 1.0)" font-family="'Liberation Sans',Arial,Helvetica,sans-serif" font-size="69" font-weight="normal" text-anchor="end">10</text>
<text transform="translate(282.5 2332.9) scale(1.14 1.0)" font-family="'Liberation Sans',Arial,Helvetica,sans-serif" font-size="56" font-weight="normal" text-anchor="end">4</text>
<text transform="translate(246.5 2337.7) scale(1.14 1.0)" font-family="'Liberation Sans',Arial,Helvetica,sans-serif" font-size="54" font-weight="normal" text-anchor="end">−</text>
<text transform="translate(209.2 2365.3) scale(1.14 1.0)" font-family="'Liberation Sans',Arial,Helvetica,sans-serif" font-size="69" font-weight="normal" text-anchor="end">10</text>
<text transform="translate(282.5 2558.5) scale(1.14 1.0)" font-family="'Liberation Sans',Arial,Helvetica,sans-serif" font-size="56" font-weight="normal" text-anchor="end">6</text>
<text transform="translate(246.5 2563.3) scale(1.14 1.0)" font-family="'Liberation Sans',Arial,Helvetica,sans-serif" font-size="54" font-weight="normal" text-anchor="end">−</text>
<text transform="translate(209.2 2590.9) scale(1.14 1.0)" font-family="'Liberation Sans',Arial,Helvetica,sans-serif" font-size="69" font-weight="normal" text-anchor="end">10</text>
<text transform="translate(282.5 2706.6) scale(1.14 1.0)" font-family="'Liberation Sans',Arial,Helvetica,sans-serif" font-size="56" font-weight="normal" text-anchor="end">4</text>
<text transform="translate(246.6 2739) scale(1.14 1.0)" font-family="'Liberation Sans',Arial,Helvetica,sans-serif" font-size="69" font-weight="normal" text-anchor="end">10</text>
<text transform="translate(282.5 2934.9) scale(1.14 1.0)" font-family="'Liberation Sans',Arial,Helvetica,sans-serif" font-size="56" font-weight="normal" text-anchor="end">2</text>
<text transform="translate(246.6 2967.3) scale(1.14 1.0)" font-family="'Liberation Sans',Arial,Helvetica,sans-serif" font-size="69" font-weight="normal" text-anchor="end">10</text>
<text transform="translate(282.5 3163.2) scale(1.14 1.0)" font-family="'Liberation Sans',Arial,Helvetica,sans-serif" font-size="56" font-weight="normal" text-anchor="end">0</text>
<text transform="translate(246.6 3195.6) scale(1.14 1.0)" font-family="'Liberation Sans',Arial,Helvetica,sans-serif" font-size="69" font-weight="normal" text-anchor="end">10</text>
<text transform="translate(282.5 3391.5) scale(1.14 1.0)" font-family="'Liberation Sans',Arial,Helvetica,sans-serif" font-size="56" font-weight="normal" text-anchor="end">2</text>
<text transform="translate(246.5 3396.3) scale(1.14 1.0)" font-family="'Liberation Sans',Arial,Helvetica,sans-serif" font-size="54" font-weight="normal" text-anchor="end">−</text>
<text transform="translate(209.2 3423.9) scale(1.14 1.0)" font-family="'Liberation Sans',Arial,Helvetica,sans-serif" font-size="69" font-weight="normal" text-anchor="end">10</text>
<text transform="translate(282.5 3619.8) scale(1.14 1.0)" font-family="'Liberation Sans',Arial,Helvetica,sans-serif" font-size="56" font-weight="normal" text-anchor="end">4</text>
<text transform="translate(246.5 3624.6) scale(1.14 1.0)" font-family="'Liberation Sans',Arial,Helvetica,sans-serif" font-size="54" font-weight="normal" text-anchor="end">−</text>
<text transform="translate(209.2 3652.2) scale(1.14 1.0)" font-family="'Liberation Sans',Arial,Helvetica,sans-serif" font-size="69" font-weight="normal" text-anchor="end">10</text>
<text transform="translate(282.5 3848.1) scale(1.14 1.0)" font-family="'Liberation Sans',Arial,Helvetica,sans-serif" font-size="56" font-weight="normal" text-anchor="end">6</text>
<text transform="translate(246.5 3852.9) scale(1.14 1.0)" font-family="'Liberation Sans',Arial,Helvetica,sans-serif" font-size="54" font-weight="normal" text-anchor="end">−</text>
<text transform="translate(209.2 3880.5) scale(1.14 1.0)" font-family="'Liberation Sans',Arial,Helvetica,sans-serif" font-size="69" font-weight="normal" text-anchor="end">10</text>
<text transform="translate(1100.5 3977.3) scale(1.14 1.0)" font-family="'Liberation Sans',Arial,Helvetica,sans-serif" font-size="69" font-weight="normal" text-anchor="middle">10</text>
<text transform="translate(2185.5 3977.3) scale(1.125 1.0)" font-family="'Liberation Sans',Arial,Helvetica,sans-serif" font-size="69" font-weight="normal" text-anchor="middle">100</text>
<text transform="translate(736.7 4113.5) scale(1.1695 1.0)" font-family="'Liberation Serif','Times New Roman',Times,serif" font-size="84" font-weight="normal" text-anchor="start">Photon Energy (eV)</text>
<text transform="translate(103 2444.4) rotate(-90) scale(1.004 1.17)" font-family="'Liberation Serif','Times New Roman',Times,serif" font-size="84" font-weight="normal" text-anchor="start">Total cross section (Mb)</text>
<text transform="translate(1793.5 903.2) scale(1.165 1.0)" font-family="'Liberation Sans',Arial,Helvetica,sans-serif" font-size="73" font-weight="bold" text-anchor="start">(a)</text>
<text transform="translate(1187 404.3) scale(1.14 1.0)" font-family="'Liberation Serif','Times New Roman',Times,serif" font-size="79" font-weight="normal" text-anchor="start">Na</text>
<text transform="translate(1297 427.6) scale(1.14 1.0)" font-family="'Liberation Serif','Times New Roman',Times,serif" font-size="64" font-weight="normal" text-anchor="start">20</text>
<text transform="translate(1791.5 2181.6) scale(1.165 1.0)" font-family="'Liberation Sans',Arial,Helvetica,sans-serif" font-size="73" font-weight="bold" text-anchor="start">(b)</text>
<text transform="translate(1187 1658.6) scale(1.14 1.0)" font-family="'Liberation Serif','Times New Roman',Times,serif" font-size="79" font-weight="normal" text-anchor="start">Na</text>
<text transform="translate(1297 1681.9) scale(1.14 1.0)" font-family="'Liberation Serif','Times New Roman',Times,serif" font-size="64" font-weight="normal" text-anchor="start">40</text>
<text transform="translate(1793.5 3465.6) scale(1.165 1.0)" font-family="'Liberation Sans',Arial,Helvetica,sans-serif" font-size="73" font-weight="bold" text-anchor="start">(c)</text>
<text transform="translate(1187 2945) scale(1.14 1.0)" font-family="'Liberation Serif','Times New Roman',Times,serif" font-size="79" font-weight="normal" text-anchor="start">Na</text>
<text transform="translate(1297 2968.3) scale(1.14 1.0)" font-family="'Liberation Serif','Times New Roman',Times,serif" font-size="64" font-weight="normal" text-anchor="start">92</text>
<text transform="translate(969.9 2214.5) scale(1.225 1.0)" font-family="'Liberation Serif','Times New Roman',Times,serif" font-size="59" font-weight="normal" text-anchor="end">LR−TDDFT−LB94</text>
<path d="M1014 2194H1209" stroke="#f00" stroke-width="8" fill="none"/>
<text transform="translate(969.9 2301.2) scale(1.225 1.0)" font-family="'Liberation Serif','Times New Roman',Times,serif" font-size="59" font-weight="normal" text-anchor="end">LR−TDDFT−SIC</text>
<path d="M1014 2280.8H1209" stroke="#00f" stroke-width="8" fill="none"/>
<text transform="translate(969.9 2388) scale(1.225 1.0)" font-family="'Liberation Serif','Times New Roman',Times,serif" font-size="59" font-weight="normal" text-anchor="end">DFT−LB94</text>
<path d="M1014 2367.5H1209" stroke="#000" stroke-width="7" fill="none"/>
<text transform="translate(969.9 2474.8) scale(1.225 1.0)" font-family="'Liberation Serif','Times New Roman',Times,serif" font-size="59" font-weight="normal" text-anchor="end">DFT−SIC</text>
<path d="M1014 2454.2H1192" stroke="#000" stroke-width="6.2" fill="none" stroke-dasharray="14 19"/>
</g>
</svg></body></html>
